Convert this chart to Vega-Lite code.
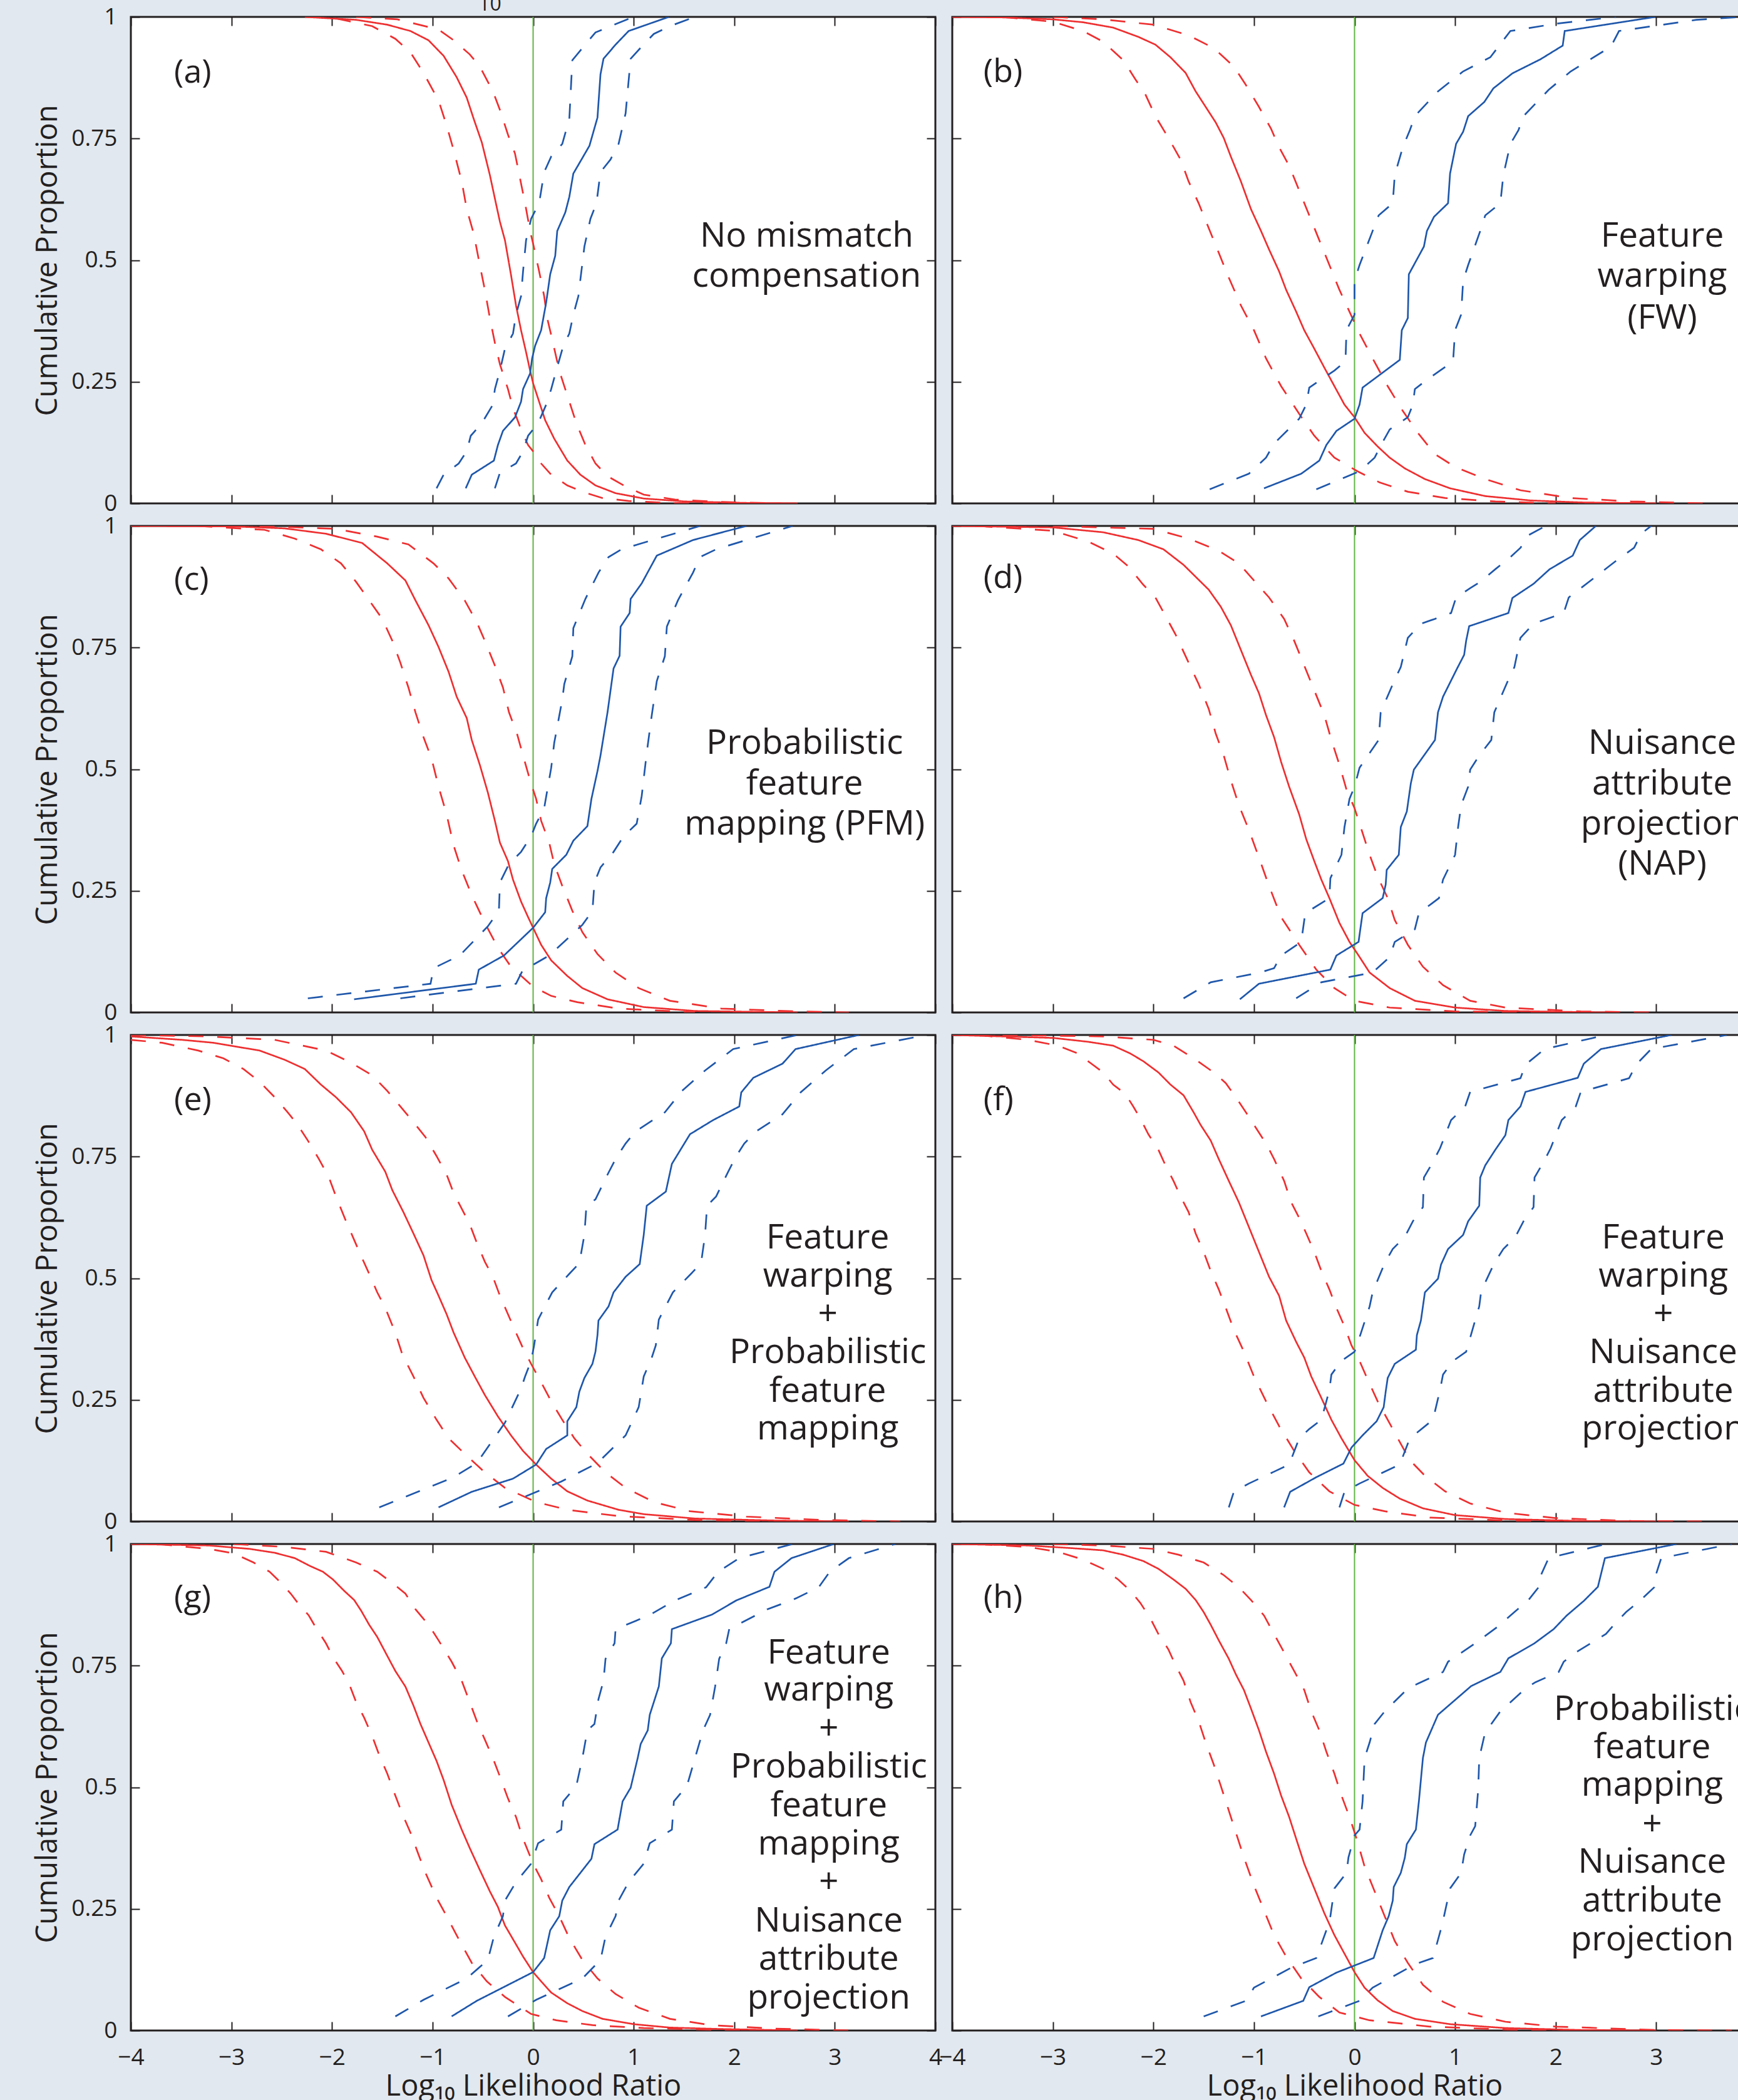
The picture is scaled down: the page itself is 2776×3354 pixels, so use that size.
{
"$schema": "https://vega.github.io/schema/vega-lite/v6.json",
"background": "#e2e8ef",
"padding": {"left": 51, "top": -11, "right": 0, "bottom": 0},
"columns": 2,
"spacing": {"row": 36, "column": 27},
"bounds": "flush",
"concat": [
{"width": 1285, "height": 777, "resolve": {"axis": {"x": "independent", "y": "independent"}}, "layer": [
 {"data": {"name": "v"}, "mark": {"type": "rule", "color": "#62b446", "strokeWidth": 2}, "encoding": {"x": {"field": "x", "type": "quantitative", "scale": {"domain": [-4, 4], "nice": false, "zero": false}, "axis": {"orient": "top", "values": [-4,-3,-2,-1,0,1,2,3,4], "labels": false, "title": null}}}},
 {"data": {"name": "a"}, "mark": {"type": "line", "strokeWidth": 2.7, "clip": true}, "encoding": {
  "x": {"field": "x", "type": "quantitative", "scale": {"domain": [-4, 4], "nice": false, "zero": false}, "axis": {"orient": "bottom", "values": [-4,-3,-2,-1,0,1,2,3,4], "labels": false, "title": null}},
  "y": {"field": "y", "type": "quantitative", "scale": {"domain": [0, 1], "nice": false, "zero": false}, "axis": {"orient": "left", "values": [0,0.25,0.5,0.75,1], "labelExpr": "datum.value + ''", "labelPadding": 36, "title": "Cumulative Proportion", "titlePadding": 13}},
  "color": {"field": "s", "type": "nominal", "scale": {"domain": ["r0","r1","r2","b0","b1","b2"], "range": ["#ee2f30","#ee2f30","#ee2f30","#1f57aa","#1f57aa","#1f57aa"]}, "legend": null},
  "strokeDash": {"field": "s", "type": "nominal", "scale": {"domain": ["r0","r1","r2","b0","b1","b2"], "range": [[1,0],[24,22],[24,22],[1,0],[24,22],[24,22]]}, "legend": null}}},
 {"data": {"name": "notes"}, "transform": [{"filter": "datum.p == 'a'"}], "mark": {"type": "text", "font": "Open Sans", "fontSize": 55, "fill": "#231f20", "align": "center", "baseline": "alphabetic"}, "encoding": {
  "x": {"field": "x", "type": "quantitative", "scale": {"domain": [-4, 4], "nice": false, "zero": false}, "axis": null},
  "y": {"field": "y", "type": "quantitative", "scale": {"domain": [0, 1], "nice": false, "zero": false}, "axis": {"orient": "right", "values": [0,0.25,0.5,0.75,1], "labels": false, "title": null}},
  "text": {"field": "t"}}},
 {"data": {"name": "tags"}, "transform": [{"filter": "datum.p == 'a'"}], "mark": {"type": "text", "font": "Open Sans", "fontSize": 52, "fill": "#231f20", "align": "left", "baseline": "alphabetic"}, "encoding": {
  "x": {"field": "x", "type": "quantitative", "scale": {"domain": [-4, 4], "nice": false, "zero": false}, "axis": null},
  "y": {"field": "y", "type": "quantitative", "scale": {"domain": [0, 1], "nice": false, "zero": false}, "axis": null},
  "text": {"field": "t"}}},
 {"data": {"name": "frag"}, "mark": {"type": "text", "font": "Open Sans", "fontSize": 32, "fill": "#231f20", "align": "center", "baseline": "alphabetic", "clip": false}, "encoding": {
  "x": {"field": "x", "type": "quantitative", "scale": {"domain": [-4, 4], "nice": false, "zero": false}, "axis": null},
  "y": {"field": "y", "type": "quantitative", "scale": {"domain": [0, 1], "nice": false, "zero": false}, "axis": null},
  "text": {"field": "t"}}}
]},
{"width": 1285, "height": 777, "resolve": {"axis": {"x": "independent", "y": "independent"}}, "layer": [
 {"data": {"name": "v"}, "mark": {"type": "rule", "color": "#62b446", "strokeWidth": 2}, "encoding": {"x": {"field": "x", "type": "quantitative", "scale": {"domain": [-4, 4], "nice": false, "zero": false}, "axis": {"orient": "top", "values": [-4,-3,-2,-1,0,1,2,3,4], "labels": false, "title": null}}}},
 {"data": {"name": "b"}, "mark": {"type": "line", "strokeWidth": 2.7, "clip": true}, "encoding": {
  "x": {"field": "x", "type": "quantitative", "scale": {"domain": [-4, 4], "nice": false, "zero": false}, "axis": {"orient": "bottom", "values": [-4,-3,-2,-1,0,1,2,3,4], "labels": false, "title": null}},
  "y": {"field": "y", "type": "quantitative", "scale": {"domain": [0, 1], "nice": false, "zero": false}, "axis": {"orient": "left", "values": [0,0.25,0.5,0.75,1], "labels": false, "title": null}},
  "color": {"field": "s", "type": "nominal", "scale": {"domain": ["r0","r1","r2","b0","b1","b2"], "range": ["#ee2f30","#ee2f30","#ee2f30","#1f57aa","#1f57aa","#1f57aa"]}, "legend": null},
  "strokeDash": {"field": "s", "type": "nominal", "scale": {"domain": ["r0","r1","r2","b0","b1","b2"], "range": [[1,0],[24,22],[24,22],[1,0],[24,22],[24,22]]}, "legend": null}}},
 {"data": {"name": "notes"}, "transform": [{"filter": "datum.p == 'b'"}], "mark": {"type": "text", "font": "Open Sans", "fontSize": 55, "fill": "#231f20", "align": "center", "baseline": "alphabetic"}, "encoding": {
  "x": {"field": "x", "type": "quantitative", "scale": {"domain": [-4, 4], "nice": false, "zero": false}, "axis": null},
  "y": {"field": "y", "type": "quantitative", "scale": {"domain": [0, 1], "nice": false, "zero": false}, "axis": {"orient": "right", "values": [0,0.25,0.5,0.75,1], "labels": false, "title": null}},
  "text": {"field": "t"}}},
 {"data": {"name": "tags"}, "transform": [{"filter": "datum.p == 'b'"}], "mark": {"type": "text", "font": "Open Sans", "fontSize": 52, "fill": "#231f20", "align": "left", "baseline": "alphabetic"}, "encoding": {
  "x": {"field": "x", "type": "quantitative", "scale": {"domain": [-4, 4], "nice": false, "zero": false}, "axis": null},
  "y": {"field": "y", "type": "quantitative", "scale": {"domain": [0, 1], "nice": false, "zero": false}, "axis": null},
  "text": {"field": "t"}}}
]},
{"width": 1285, "height": 777, "resolve": {"axis": {"x": "independent", "y": "independent"}}, "layer": [
 {"data": {"name": "v"}, "mark": {"type": "rule", "color": "#62b446", "strokeWidth": 2}, "encoding": {"x": {"field": "x", "type": "quantitative", "scale": {"domain": [-4, 4], "nice": false, "zero": false}, "axis": {"orient": "top", "values": [-4,-3,-2,-1,0,1,2,3,4], "labels": false, "title": null}}}},
 {"data": {"name": "c"}, "mark": {"type": "line", "strokeWidth": 2.7, "clip": true}, "encoding": {
  "x": {"field": "x", "type": "quantitative", "scale": {"domain": [-4, 4], "nice": false, "zero": false}, "axis": {"orient": "bottom", "values": [-4,-3,-2,-1,0,1,2,3,4], "labels": false, "title": null}},
  "y": {"field": "y", "type": "quantitative", "scale": {"domain": [0, 1], "nice": false, "zero": false}, "axis": {"orient": "left", "values": [0,0.25,0.5,0.75,1], "labelExpr": "datum.value + ''", "labelPadding": 36, "title": "Cumulative Proportion", "titlePadding": 13}},
  "color": {"field": "s", "type": "nominal", "scale": {"domain": ["r0","r1","r2","b0","b1","b2"], "range": ["#ee2f30","#ee2f30","#ee2f30","#1f57aa","#1f57aa","#1f57aa"]}, "legend": null},
  "strokeDash": {"field": "s", "type": "nominal", "scale": {"domain": ["r0","r1","r2","b0","b1","b2"], "range": [[1,0],[24,22],[24,22],[1,0],[24,22],[24,22]]}, "legend": null}}},
 {"data": {"name": "notes"}, "transform": [{"filter": "datum.p == 'c'"}], "mark": {"type": "text", "font": "Open Sans", "fontSize": 55, "fill": "#231f20", "align": "center", "baseline": "alphabetic"}, "encoding": {
  "x": {"field": "x", "type": "quantitative", "scale": {"domain": [-4, 4], "nice": false, "zero": false}, "axis": null},
  "y": {"field": "y", "type": "quantitative", "scale": {"domain": [0, 1], "nice": false, "zero": false}, "axis": {"orient": "right", "values": [0,0.25,0.5,0.75,1], "labels": false, "title": null}},
  "text": {"field": "t"}}},
 {"data": {"name": "tags"}, "transform": [{"filter": "datum.p == 'c'"}], "mark": {"type": "text", "font": "Open Sans", "fontSize": 52, "fill": "#231f20", "align": "left", "baseline": "alphabetic"}, "encoding": {
  "x": {"field": "x", "type": "quantitative", "scale": {"domain": [-4, 4], "nice": false, "zero": false}, "axis": null},
  "y": {"field": "y", "type": "quantitative", "scale": {"domain": [0, 1], "nice": false, "zero": false}, "axis": null},
  "text": {"field": "t"}}}
]},
{"width": 1285, "height": 777, "resolve": {"axis": {"x": "independent", "y": "independent"}}, "layer": [
 {"data": {"name": "v"}, "mark": {"type": "rule", "color": "#62b446", "strokeWidth": 2}, "encoding": {"x": {"field": "x", "type": "quantitative", "scale": {"domain": [-4, 4], "nice": false, "zero": false}, "axis": {"orient": "top", "values": [-4,-3,-2,-1,0,1,2,3,4], "labels": false, "title": null}}}},
 {"data": {"name": "d"}, "mark": {"type": "line", "strokeWidth": 2.7, "clip": true}, "encoding": {
  "x": {"field": "x", "type": "quantitative", "scale": {"domain": [-4, 4], "nice": false, "zero": false}, "axis": {"orient": "bottom", "values": [-4,-3,-2,-1,0,1,2,3,4], "labels": false, "title": null}},
  "y": {"field": "y", "type": "quantitative", "scale": {"domain": [0, 1], "nice": false, "zero": false}, "axis": {"orient": "left", "values": [0,0.25,0.5,0.75,1], "labels": false, "title": null}},
  "color": {"field": "s", "type": "nominal", "scale": {"domain": ["r0","r1","r2","b0","b1","b2"], "range": ["#ee2f30","#ee2f30","#ee2f30","#1f57aa","#1f57aa","#1f57aa"]}, "legend": null},
  "strokeDash": {"field": "s", "type": "nominal", "scale": {"domain": ["r0","r1","r2","b0","b1","b2"], "range": [[1,0],[24,22],[24,22],[1,0],[24,22],[24,22]]}, "legend": null}}},
 {"data": {"name": "notes"}, "transform": [{"filter": "datum.p == 'd'"}], "mark": {"type": "text", "font": "Open Sans", "fontSize": 55, "fill": "#231f20", "align": "center", "baseline": "alphabetic"}, "encoding": {
  "x": {"field": "x", "type": "quantitative", "scale": {"domain": [-4, 4], "nice": false, "zero": false}, "axis": null},
  "y": {"field": "y", "type": "quantitative", "scale": {"domain": [0, 1], "nice": false, "zero": false}, "axis": {"orient": "right", "values": [0,0.25,0.5,0.75,1], "labels": false, "title": null}},
  "text": {"field": "t"}}},
 {"data": {"name": "tags"}, "transform": [{"filter": "datum.p == 'd'"}], "mark": {"type": "text", "font": "Open Sans", "fontSize": 52, "fill": "#231f20", "align": "left", "baseline": "alphabetic"}, "encoding": {
  "x": {"field": "x", "type": "quantitative", "scale": {"domain": [-4, 4], "nice": false, "zero": false}, "axis": null},
  "y": {"field": "y", "type": "quantitative", "scale": {"domain": [0, 1], "nice": false, "zero": false}, "axis": null},
  "text": {"field": "t"}}}
]},
{"width": 1285, "height": 777, "resolve": {"axis": {"x": "independent", "y": "independent"}}, "layer": [
 {"data": {"name": "v"}, "mark": {"type": "rule", "color": "#62b446", "strokeWidth": 2}, "encoding": {"x": {"field": "x", "type": "quantitative", "scale": {"domain": [-4, 4], "nice": false, "zero": false}, "axis": {"orient": "top", "values": [-4,-3,-2,-1,0,1,2,3,4], "labels": false, "title": null}}}},
 {"data": {"name": "e"}, "mark": {"type": "line", "strokeWidth": 2.7, "clip": true}, "encoding": {
  "x": {"field": "x", "type": "quantitative", "scale": {"domain": [-4, 4], "nice": false, "zero": false}, "axis": {"orient": "bottom", "values": [-4,-3,-2,-1,0,1,2,3,4], "labels": false, "title": null}},
  "y": {"field": "y", "type": "quantitative", "scale": {"domain": [0, 1], "nice": false, "zero": false}, "axis": {"orient": "left", "values": [0,0.25,0.5,0.75,1], "labelExpr": "datum.value + ''", "labelPadding": 36, "title": "Cumulative Proportion", "titlePadding": 13}},
  "color": {"field": "s", "type": "nominal", "scale": {"domain": ["r0","r1","r2","b0","b1","b2"], "range": ["#ee2f30","#ee2f30","#ee2f30","#1f57aa","#1f57aa","#1f57aa"]}, "legend": null},
  "strokeDash": {"field": "s", "type": "nominal", "scale": {"domain": ["r0","r1","r2","b0","b1","b2"], "range": [[1,0],[24,22],[24,22],[1,0],[24,22],[24,22]]}, "legend": null}}},
 {"data": {"name": "notes"}, "transform": [{"filter": "datum.p == 'e'"}], "mark": {"type": "text", "font": "Open Sans", "fontSize": 55, "fill": "#231f20", "align": "center", "baseline": "alphabetic"}, "encoding": {
  "x": {"field": "x", "type": "quantitative", "scale": {"domain": [-4, 4], "nice": false, "zero": false}, "axis": null},
  "y": {"field": "y", "type": "quantitative", "scale": {"domain": [0, 1], "nice": false, "zero": false}, "axis": {"orient": "right", "values": [0,0.25,0.5,0.75,1], "labels": false, "title": null}},
  "text": {"field": "t"}}},
 {"data": {"name": "tags"}, "transform": [{"filter": "datum.p == 'e'"}], "mark": {"type": "text", "font": "Open Sans", "fontSize": 52, "fill": "#231f20", "align": "left", "baseline": "alphabetic"}, "encoding": {
  "x": {"field": "x", "type": "quantitative", "scale": {"domain": [-4, 4], "nice": false, "zero": false}, "axis": null},
  "y": {"field": "y", "type": "quantitative", "scale": {"domain": [0, 1], "nice": false, "zero": false}, "axis": null},
  "text": {"field": "t"}}}
]},
{"width": 1285, "height": 777, "resolve": {"axis": {"x": "independent", "y": "independent"}}, "layer": [
 {"data": {"name": "v"}, "mark": {"type": "rule", "color": "#62b446", "strokeWidth": 2}, "encoding": {"x": {"field": "x", "type": "quantitative", "scale": {"domain": [-4, 4], "nice": false, "zero": false}, "axis": {"orient": "top", "values": [-4,-3,-2,-1,0,1,2,3,4], "labels": false, "title": null}}}},
 {"data": {"name": "f"}, "mark": {"type": "line", "strokeWidth": 2.7, "clip": true}, "encoding": {
  "x": {"field": "x", "type": "quantitative", "scale": {"domain": [-4, 4], "nice": false, "zero": false}, "axis": {"orient": "bottom", "values": [-4,-3,-2,-1,0,1,2,3,4], "labels": false, "title": null}},
  "y": {"field": "y", "type": "quantitative", "scale": {"domain": [0, 1], "nice": false, "zero": false}, "axis": {"orient": "left", "values": [0,0.25,0.5,0.75,1], "labels": false, "title": null}},
  "color": {"field": "s", "type": "nominal", "scale": {"domain": ["r0","r1","r2","b0","b1","b2"], "range": ["#ee2f30","#ee2f30","#ee2f30","#1f57aa","#1f57aa","#1f57aa"]}, "legend": null},
  "strokeDash": {"field": "s", "type": "nominal", "scale": {"domain": ["r0","r1","r2","b0","b1","b2"], "range": [[1,0],[24,22],[24,22],[1,0],[24,22],[24,22]]}, "legend": null}}},
 {"data": {"name": "notes"}, "transform": [{"filter": "datum.p == 'f'"}], "mark": {"type": "text", "font": "Open Sans", "fontSize": 55, "fill": "#231f20", "align": "center", "baseline": "alphabetic"}, "encoding": {
  "x": {"field": "x", "type": "quantitative", "scale": {"domain": [-4, 4], "nice": false, "zero": false}, "axis": null},
  "y": {"field": "y", "type": "quantitative", "scale": {"domain": [0, 1], "nice": false, "zero": false}, "axis": {"orient": "right", "values": [0,0.25,0.5,0.75,1], "labels": false, "title": null}},
  "text": {"field": "t"}}},
 {"data": {"name": "tags"}, "transform": [{"filter": "datum.p == 'f'"}], "mark": {"type": "text", "font": "Open Sans", "fontSize": 52, "fill": "#231f20", "align": "left", "baseline": "alphabetic"}, "encoding": {
  "x": {"field": "x", "type": "quantitative", "scale": {"domain": [-4, 4], "nice": false, "zero": false}, "axis": null},
  "y": {"field": "y", "type": "quantitative", "scale": {"domain": [0, 1], "nice": false, "zero": false}, "axis": null},
  "text": {"field": "t"}}}
]},
{"width": 1285, "height": 777, "resolve": {"axis": {"x": "independent", "y": "independent"}}, "layer": [
 {"data": {"name": "v"}, "mark": {"type": "rule", "color": "#62b446", "strokeWidth": 2}, "encoding": {"x": {"field": "x", "type": "quantitative", "scale": {"domain": [-4, 4], "nice": false, "zero": false}, "axis": {"orient": "top", "values": [-4,-3,-2,-1,0,1,2,3,4], "labels": false, "title": null}}}},
 {"data": {"name": "g"}, "mark": {"type": "line", "strokeWidth": 2.7, "clip": true}, "encoding": {
  "x": {"field": "x", "type": "quantitative", "scale": {"domain": [-4, 4], "nice": false, "zero": false}, "axis": {"orient": "bottom", "values": [-4,-3,-2,-1,0,1,2,3,4], "format": "d", "labelPadding": 39, "title": "Log₁₀ Likelihood Ratio", "titlePadding": 5}},
  "y": {"field": "y", "type": "quantitative", "scale": {"domain": [0, 1], "nice": false, "zero": false}, "axis": {"orient": "left", "values": [0,0.25,0.5,0.75,1], "labelExpr": "datum.value + ''", "labelPadding": 36, "title": "Cumulative Proportion", "titlePadding": 13}},
  "color": {"field": "s", "type": "nominal", "scale": {"domain": ["r0","r1","r2","b0","b1","b2"], "range": ["#ee2f30","#ee2f30","#ee2f30","#1f57aa","#1f57aa","#1f57aa"]}, "legend": null},
  "strokeDash": {"field": "s", "type": "nominal", "scale": {"domain": ["r0","r1","r2","b0","b1","b2"], "range": [[1,0],[24,22],[24,22],[1,0],[24,22],[24,22]]}, "legend": null}}},
 {"data": {"name": "notes"}, "transform": [{"filter": "datum.p == 'g'"}], "mark": {"type": "text", "font": "Open Sans", "fontSize": 55, "fill": "#231f20", "align": "center", "baseline": "alphabetic"}, "encoding": {
  "x": {"field": "x", "type": "quantitative", "scale": {"domain": [-4, 4], "nice": false, "zero": false}, "axis": null},
  "y": {"field": "y", "type": "quantitative", "scale": {"domain": [0, 1], "nice": false, "zero": false}, "axis": {"orient": "right", "values": [0,0.25,0.5,0.75,1], "labels": false, "title": null}},
  "text": {"field": "t"}}},
 {"data": {"name": "tags"}, "transform": [{"filter": "datum.p == 'g'"}], "mark": {"type": "text", "font": "Open Sans", "fontSize": 52, "fill": "#231f20", "align": "left", "baseline": "alphabetic"}, "encoding": {
  "x": {"field": "x", "type": "quantitative", "scale": {"domain": [-4, 4], "nice": false, "zero": false}, "axis": null},
  "y": {"field": "y", "type": "quantitative", "scale": {"domain": [0, 1], "nice": false, "zero": false}, "axis": null},
  "text": {"field": "t"}}}
]},
{"width": 1285, "height": 777, "resolve": {"axis": {"x": "independent", "y": "independent"}}, "layer": [
 {"data": {"name": "v"}, "mark": {"type": "rule", "color": "#62b446", "strokeWidth": 2}, "encoding": {"x": {"field": "x", "type": "quantitative", "scale": {"domain": [-4, 4], "nice": false, "zero": false}, "axis": {"orient": "top", "values": [-4,-3,-2,-1,0,1,2,3,4], "labels": false, "title": null}}}},
 {"data": {"name": "h"}, "mark": {"type": "line", "strokeWidth": 2.7, "clip": true}, "encoding": {
  "x": {"field": "x", "type": "quantitative", "scale": {"domain": [-4, 4], "nice": false, "zero": false}, "axis": {"orient": "bottom", "values": [-4,-3,-2,-1,0,1,2,3,4], "format": "d", "labelPadding": 39, "title": "Log₁₀ Likelihood Ratio", "titlePadding": 5}},
  "y": {"field": "y", "type": "quantitative", "scale": {"domain": [0, 1], "nice": false, "zero": false}, "axis": {"orient": "left", "values": [0,0.25,0.5,0.75,1], "labels": false, "title": null}},
  "color": {"field": "s", "type": "nominal", "scale": {"domain": ["r0","r1","r2","b0","b1","b2"], "range": ["#ee2f30","#ee2f30","#ee2f30","#1f57aa","#1f57aa","#1f57aa"]}, "legend": null},
  "strokeDash": {"field": "s", "type": "nominal", "scale": {"domain": ["r0","r1","r2","b0","b1","b2"], "range": [[1,0],[24,22],[24,22],[1,0],[24,22],[24,22]]}, "legend": null}}},
 {"data": {"name": "notes"}, "transform": [{"filter": "datum.p == 'h'"}], "mark": {"type": "text", "font": "Open Sans", "fontSize": 55, "fill": "#231f20", "align": "center", "baseline": "alphabetic"}, "encoding": {
  "x": {"field": "x", "type": "quantitative", "scale": {"domain": [-4, 4], "nice": false, "zero": false}, "axis": null},
  "y": {"field": "y", "type": "quantitative", "scale": {"domain": [0, 1], "nice": false, "zero": false}, "axis": {"orient": "right", "values": [0,0.25,0.5,0.75,1], "labels": false, "title": null}},
  "text": {"field": "t"}}},
 {"data": {"name": "tags"}, "transform": [{"filter": "datum.p == 'h'"}], "mark": {"type": "text", "font": "Open Sans", "fontSize": 52, "fill": "#231f20", "align": "left", "baseline": "alphabetic"}, "encoding": {
  "x": {"field": "x", "type": "quantitative", "scale": {"domain": [-4, 4], "nice": false, "zero": false}, "axis": null},
  "y": {"field": "y", "type": "quantitative", "scale": {"domain": [0, 1], "nice": false, "zero": false}, "axis": null},
  "text": {"field": "t"}}}
]}
],
"config": {
 "view": {"fill": "white", "stroke": "#231f20", "strokeWidth": 3},
 "axis": {"domain": false, "grid": false, "ticks": true, "tickSize": -14, "tickWidth": 2, "tickColor": "#231f20", "labelFont": "Open Sans", "labelFontSize": 37, "labelColor": "#231f20", "labelFlush": false, "labelOverlap": false, "labelBound": false, "titleFont": "Open Sans", "titleFontSize": 47, "titleFontWeight": "normal", "titleColor": "#231f20"}
},
"datasets": {
"v": [{"x": 0}],
"frag": [{"x": -0.43, "y": 1.0135, "t": "10"}],
"tags": [
 {"p":"a","x":-3.57,"y":0.865,"t":"(a)"},{"p":"b","x":-3.69,"y":0.866,"t":"(b)"},{"p":"c","x":-3.57,"y":0.869,"t":"(c)"},{"p":"d","x":-3.69,"y":0.872,"t":"(d)"},
 {"p":"e","x":-3.57,"y":0.845,"t":"(e)"},{"p":"f","x":-3.69,"y":0.845,"t":"(f)"},{"p":"g","x":-3.57,"y":0.869,"t":"(g)"},{"p":"h","x":-3.69,"y":0.869,"t":"(h)"}
],
"notes": [
 {"p":"a","x":2.72,"y":0.528,"t":"No mismatch"},{"p":"a","x":2.72,"y":0.445,"t":"compensation"},
 {"p":"b","x":3.06,"y":0.528,"t":"Feature"},{"p":"b","x":3.06,"y":0.445,"t":"warping"},{"p":"b","x":3.06,"y":0.359,"t":"(FW)"},
 {"p":"c","x":2.7,"y":0.531,"t":"Probabilistic"},{"p":"c","x":2.7,"y":0.448,"t":"feature"},{"p":"c","x":2.7,"y":0.365,"t":"mapping (PFM)"},
 {"p":"d","x":3.06,"y":0.531,"t":"Nuisance"},{"p":"d","x":3.06,"y":0.448,"t":"attribute"},{"p":"d","x":3.06,"y":0.365,"t":"projection"},{"p":"d","x":3.06,"y":0.283,"t":"(NAP)"},
 {"p":"e","x":2.93,"y":0.561,"t":"Feature"},{"p":"e","x":2.93,"y":0.483,"t":"warping"},{"p":"e","x":2.93,"y":0.404,"t":"+"},{"p":"e","x":2.93,"y":0.325,"t":"Probabilistic"},{"p":"e","x":2.93,"y":0.246,"t":"feature"},{"p":"e","x":2.93,"y":0.168,"t":"mapping"},
 {"p":"f","x":3.07,"y":0.561,"t":"Feature"},{"p":"f","x":3.07,"y":0.483,"t":"warping"},{"p":"f","x":3.07,"y":0.404,"t":"+"},{"p":"f","x":3.07,"y":0.325,"t":"Nuisance"},{"p":"f","x":3.07,"y":0.246,"t":"attribute"},{"p":"f","x":3.07,"y":0.168,"t":"projection"},
 {"p":"g","x":2.94,"y":0.754,"t":"Feature"},{"p":"g","x":2.94,"y":0.678,"t":"warping"},{"p":"g","x":2.94,"y":0.598,"t":"+"},{"p":"g","x":2.94,"y":0.52,"t":"Probabilistic"},{"p":"g","x":2.94,"y":0.44,"t":"feature"},{"p":"g","x":2.94,"y":0.362,"t":"mapping"},{"p":"g","x":2.94,"y":0.283,"t":"+"},{"p":"g","x":2.94,"y":0.203,"t":"Nuisance"},{"p":"g","x":2.94,"y":0.125,"t":"attribute"},{"p":"g","x":2.94,"y":0.045,"t":"projection"},
 {"p":"h","x":2.96,"y":0.638,"t":"Probabilistic"},{"p":"h","x":2.96,"y":0.56,"t":"feature"},{"p":"h","x":2.96,"y":0.482,"t":"mapping"},{"p":"h","x":2.96,"y":0.402,"t":"+"},{"p":"h","x":2.96,"y":0.324,"t":"Nuisance"},{"p":"h","x":2.96,"y":0.244,"t":"attribute"},{"p":"h","x":2.96,"y":0.165,"t":"projection"}
],
"a": [
{"s":"r0","x":-2.27,"y":1},{"s":"r0","x":-1.76,"y":0.994},{"s":"r0","x":-1.45,"y":0.984},{"s":"r0","x":-1.22,"y":0.971},{"s":"r0","x":-1.04,"y":0.952},{"s":"r0","x":-0.89,"y":0.92},{"s":"r0","x":-0.76,"y":0.876},{"s":"r0","x":-0.66,"y":0.834},{"s":"r0","x":-0.59,"y":0.79},{"s":"r0","x":-0.51,"y":0.742},{"s":"r0","x":-0.43,"y":0.675},{"s":"r0","x":-0.37,"y":0.617},{"s":"r0","x":-0.33,"y":0.579},{"s":"r0","x":-0.28,"y":0.541},{"s":"r0","x":-0.22,"y":0.47},{"s":"r0","x":-0.17,"y":0.407},{"s":"r0","x":-0.12,"y":0.356},{"s":"r0","x":-0.07,"y":0.311},{"s":"r0","x":-0.03,"y":0.273},{"s":"r0","x":0,"y":0.247},{"s":"r0","x":0.06,"y":0.209},{"s":"r0","x":0.12,"y":0.171},{"s":"r0","x":0.21,"y":0.133},{"s":"r0","x":0.34,"y":0.088},{"s":"r0","x":0.47,"y":0.059},{"s":"r0","x":0.62,"y":0.037},{"s":"r0","x":0.82,"y":0.021},{"s":"r0","x":1.1,"y":0.01},{"s":"r0","x":1.51,"y":0.004},{"s":"r0","x":2.12,"y":0.001},{"s":"r0","x":2.63,"y":0},
{"s":"r1","x":-1.96,"y":0.997},{"s":"r1","x":-1.6,"y":0.981},{"s":"r1","x":-1.37,"y":0.955},{"s":"r1","x":-1.22,"y":0.927},{"s":"r1","x":-1.09,"y":0.885},{"s":"r1","x":-0.94,"y":0.828},{"s":"r1","x":-0.86,"y":0.777},{"s":"r1","x":-0.79,"y":0.726},{"s":"r1","x":-0.71,"y":0.662},{"s":"r1","x":-0.66,"y":0.605},{"s":"r1","x":-0.59,"y":0.554},{"s":"r1","x":-0.53,"y":0.49},{"s":"r1","x":-0.48,"y":0.439},{"s":"r1","x":-0.43,"y":0.381},{"s":"r1","x":-0.38,"y":0.33},{"s":"r1","x":-0.33,"y":0.286},{"s":"r1","x":-0.25,"y":0.235},{"s":"r1","x":-0.2,"y":0.196},{"s":"r1","x":-0.12,"y":0.152},{"s":"r1","x":-0.05,"y":0.12},{"s":"r1","x":0,"y":0.107},{"s":"r1","x":0.08,"y":0.082},{"s":"r1","x":0.18,"y":0.059},{"s":"r1","x":0.34,"y":0.037},{"s":"r1","x":0.49,"y":0.024},{"s":"r1","x":0.69,"y":0.011},{"s":"r1","x":0.95,"y":0.005},{"s":"r1","x":1.36,"y":0.001},{"s":"r1","x":1.87,"y":0},
{"s":"r2","x":-1.76,"y":1},{"s":"r2","x":-1.35,"y":0.995},{"s":"r2","x":-0.94,"y":0.974},{"s":"r2","x":-0.79,"y":0.952},{"s":"r2","x":-0.63,"y":0.923},{"s":"r2","x":-0.53,"y":0.898},{"s":"r2","x":-0.4,"y":0.847},{"s":"r2","x":-0.33,"y":0.809},{"s":"r2","x":-0.25,"y":0.758},{"s":"r2","x":-0.18,"y":0.719},{"s":"r2","x":-0.13,"y":0.668},{"s":"r2","x":-0.08,"y":0.617},{"s":"r2","x":-0.03,"y":0.56},{"s":"r2","x":0,"y":0.534},{"s":"r2","x":0.06,"y":0.477},{"s":"r2","x":0.11,"y":0.426},{"s":"r2","x":0.14,"y":0.381},{"s":"r2","x":0.19,"y":0.337},{"s":"r2","x":0.26,"y":0.273},{"s":"r2","x":0.34,"y":0.222},{"s":"r2","x":0.43,"y":0.165},{"s":"r2","x":0.52,"y":0.12},{"s":"r2","x":0.62,"y":0.082},{"s":"r2","x":0.74,"y":0.056},{"s":"r2","x":0.9,"y":0.037},{"s":"r2","x":1.1,"y":0.018},{"s":"r2","x":1.41,"y":0.008},{"s":"r2","x":1.87,"y":0.003},{"s":"r2","x":2.48,"y":0},
{"s":"b0","x":-0.67,"y":0.031},{"s":"b0","x":-0.61,"y":0.059},{"s":"b0","x":-0.39,"y":0.088},{"s":"b0","x":-0.35,"y":0.12},{"s":"b0","x":-0.3,"y":0.149},{"s":"b0","x":-0.18,"y":0.177},{"s":"b0","x":-0.12,"y":0.209},{"s":"b0","x":-0.1,"y":0.235},{"s":"b0","x":-0.03,"y":0.267},{"s":"b0","x":-0.01,"y":0.298},{"s":"b0","x":0.02,"y":0.324},{"s":"b0","x":0.08,"y":0.356},{"s":"b0","x":0.13,"y":0.413},{"s":"b0","x":0.17,"y":0.471},{"s":"b0","x":0.22,"y":0.509},{"s":"b0","x":0.24,"y":0.56},{"s":"b0","x":0.32,"y":0.598},{"s":"b0","x":0.36,"y":0.63},{"s":"b0","x":0.4,"y":0.678},{"s":"b0","x":0.56,"y":0.735},{"s":"b0","x":0.64,"y":0.793},{"s":"b0","x":0.67,"y":0.882},{"s":"b0","x":0.7,"y":0.914},{"s":"b0","x":0.82,"y":0.943},{"s":"b0","x":0.95,"y":0.971},{"s":"b0","x":1.35,"y":1},
{"s":"b1","x":-0.96,"y":0.031},{"s":"b1","x":-0.89,"y":0.059},{"s":"b1","x":-0.74,"y":0.082},{"s":"b1","x":-0.66,"y":0.107},{"s":"b1","x":-0.62,"y":0.139},{"s":"b1","x":-0.51,"y":0.165},{"s":"b1","x":-0.4,"y":0.203},{"s":"b1","x":-0.38,"y":0.235},{"s":"b1","x":-0.33,"y":0.273},{"s":"b1","x":-0.28,"y":0.318},{"s":"b1","x":-0.2,"y":0.349},{"s":"b1","x":-0.17,"y":0.388},{"s":"b1","x":-0.12,"y":0.426},{"s":"b1","x":-0.1,"y":0.477},{"s":"b1","x":-0.07,"y":0.541},{"s":"b1","x":-0.02,"y":0.585},{"s":"b1","x":0.06,"y":0.617},{"s":"b1","x":0.11,"y":0.681},{"s":"b1","x":0.18,"y":0.713},{"s":"b1","x":0.29,"y":0.739},{"s":"b1","x":0.36,"y":0.79},{"s":"b1","x":0.39,"y":0.911},{"s":"b1","x":0.49,"y":0.936},{"s":"b1","x":0.62,"y":0.968},{"s":"b1","x":0.77,"y":0.981},{"s":"b1","x":1,"y":1},
{"s":"b2","x":-0.38,"y":0.031},{"s":"b2","x":-0.33,"y":0.063},{"s":"b2","x":-0.17,"y":0.082},{"s":"b2","x":-0.1,"y":0.107},{"s":"b2","x":-0.05,"y":0.139},{"s":"b2","x":0.05,"y":0.165},{"s":"b2","x":0.13,"y":0.203},{"s":"b2","x":0.18,"y":0.235},{"s":"b2","x":0.23,"y":0.273},{"s":"b2","x":0.3,"y":0.324},{"s":"b2","x":0.36,"y":0.349},{"s":"b2","x":0.4,"y":0.388},{"s":"b2","x":0.45,"y":0.426},{"s":"b2","x":0.48,"y":0.477},{"s":"b2","x":0.51,"y":0.528},{"s":"b2","x":0.57,"y":0.585},{"s":"b2","x":0.63,"y":0.617},{"s":"b2","x":0.67,"y":0.681},{"s":"b2","x":0.77,"y":0.707},{"s":"b2","x":0.85,"y":0.739},{"s":"b2","x":0.92,"y":0.802},{"s":"b2","x":0.97,"y":0.914},{"s":"b2","x":1.08,"y":0.939},{"s":"b2","x":1.2,"y":0.965},{"s":"b2","x":1.36,"y":0.981},{"s":"b2","x":1.61,"y":1}
],
"b": [
{"s":"r0","x":-4,"y":1},{"s":"r0","x":-3.5,"y":0.999},{"s":"r0","x":-3,"y":0.995},{"s":"r0","x":-2.7,"y":0.989},{"s":"r0","x":-2.4,"y":0.978},{"s":"r0","x":-2.15,"y":0.959},{"s":"r0","x":-1.98,"y":0.943},{"s":"r0","x":-1.83,"y":0.917},{"s":"r0","x":-1.68,"y":0.885},{"s":"r0","x":-1.58,"y":0.847},{"s":"r0","x":-1.48,"y":0.815},{"s":"r0","x":-1.38,"y":0.783},{"s":"r0","x":-1.3,"y":0.751},{"s":"r0","x":-1.23,"y":0.713},{"s":"r0","x":-1.13,"y":0.662},{"s":"r0","x":-1.03,"y":0.605},{"s":"r0","x":-0.93,"y":0.56},{"s":"r0","x":-0.85,"y":0.522},{"s":"r0","x":-0.75,"y":0.477},{"s":"r0","x":-0.68,"y":0.439},{"s":"r0","x":-0.58,"y":0.394},{"s":"r0","x":-0.5,"y":0.356},{"s":"r0","x":-0.4,"y":0.318},{"s":"r0","x":-0.3,"y":0.279},{"s":"r0","x":-0.2,"y":0.241},{"s":"r0","x":-0.1,"y":0.203},{"s":"r0","x":0,"y":0.177},{"s":"r0","x":0.1,"y":0.145},{"s":"r0","x":0.23,"y":0.117},{"s":"r0","x":0.35,"y":0.094},{"s":"r0","x":0.5,"y":0.072},{"s":"r0","x":0.7,"y":0.05},{"s":"r0","x":0.95,"y":0.031},{"s":"r0","x":1.3,"y":0.015},{"s":"r0","x":1.75,"y":0.006},{"s":"r0","x":2.25,"y":0.002},{"s":"r0","x":3,"y":0},
{"s":"r1","x":-3.5,"y":1},{"s":"r1","x":-3,"y":0.99},{"s":"r1","x":-2.7,"y":0.971},{"s":"r1","x":-2.5,"y":0.949},{"s":"r1","x":-2.3,"y":0.911},{"s":"r1","x":-2.18,"y":0.872},{"s":"r1","x":-2.08,"y":0.841},{"s":"r1","x":-1.98,"y":0.796},{"s":"r1","x":-1.85,"y":0.751},{"s":"r1","x":-1.73,"y":0.707},{"s":"r1","x":-1.65,"y":0.662},{"s":"r1","x":-1.55,"y":0.617},{"s":"r1","x":-1.45,"y":0.566},{"s":"r1","x":-1.35,"y":0.515},{"s":"r1","x":-1.25,"y":0.464},{"s":"r1","x":-1.13,"y":0.407},{"s":"r1","x":-1,"y":0.356},{"s":"r1","x":-0.88,"y":0.298},{"s":"r1","x":-0.73,"y":0.241},{"s":"r1","x":-0.55,"y":0.184},{"s":"r1","x":-0.4,"y":0.139},{"s":"r1","x":-0.2,"y":0.094},{"s":"r1","x":0.03,"y":0.066},{"s":"r1","x":0.25,"y":0.043},{"s":"r1","x":0.53,"y":0.024},{"s":"r1","x":0.9,"y":0.011},{"s":"r1","x":1.4,"y":0.004},{"s":"r1","x":2,"y":0},
{"s":"r2","x":-3,"y":1},{"s":"r2","x":-2.5,"y":0.995},{"s":"r2","x":-2,"y":0.984},{"s":"r2","x":-1.65,"y":0.962},{"s":"r2","x":-1.4,"y":0.936},{"s":"r2","x":-1.2,"y":0.898},{"s":"r2","x":-1.08,"y":0.86},{"s":"r2","x":-0.95,"y":0.815},{"s":"r2","x":-0.83,"y":0.77},{"s":"r2","x":-0.75,"y":0.732},{"s":"r2","x":-0.65,"y":0.694},{"s":"r2","x":-0.55,"y":0.643},{"s":"r2","x":-0.45,"y":0.592},{"s":"r2","x":-0.35,"y":0.541},{"s":"r2","x":-0.25,"y":0.49},{"s":"r2","x":-0.15,"y":0.439},{"s":"r2","x":-0.05,"y":0.394},{"s":"r2","x":0.05,"y":0.349},{"s":"r2","x":0.18,"y":0.298},{"s":"r2","x":0.33,"y":0.241},{"s":"r2","x":0.48,"y":0.19},{"s":"r2","x":0.63,"y":0.145},{"s":"r2","x":0.8,"y":0.101},{"s":"r2","x":1,"y":0.075},{"s":"r2","x":1.3,"y":0.05},{"s":"r2","x":1.65,"y":0.027},{"s":"r2","x":2.15,"y":0.011},{"s":"r2","x":2.75,"y":0.004},{"s":"r2","x":3.5,"y":0},
{"s":"b0","x":-0.9,"y":0.031},{"s":"b0","x":-0.53,"y":0.061},{"s":"b0","x":-0.35,"y":0.088},{"s":"b0","x":-0.28,"y":0.12},{"s":"b0","x":-0.18,"y":0.149},{"s":"b0","x":0,"y":0.174},{"s":"b0","x":0.05,"y":0.203},{"s":"b0","x":0.08,"y":0.238},{"s":"b0","x":0.45,"y":0.295},{"s":"b0","x":0.47,"y":0.356},{"s":"b0","x":0.53,"y":0.381},{"s":"b0","x":0.54,"y":0.471},{"s":"b0","x":0.69,"y":0.528},{"s":"b0","x":0.72,"y":0.56},{"s":"b0","x":0.79,"y":0.589},{"s":"b0","x":0.93,"y":0.617},{"s":"b0","x":0.95,"y":0.678},{"s":"b0","x":1.01,"y":0.739},{"s":"b0","x":1.08,"y":0.764},{"s":"b0","x":1.13,"y":0.796},{"s":"b0","x":1.29,"y":0.825},{"s":"b0","x":1.38,"y":0.853},{"s":"b0","x":1.57,"y":0.884},{"s":"b0","x":1.85,"y":0.913},{"s":"b0","x":2.07,"y":0.941},{"s":"b0","x":2.09,"y":0.971},{"s":"b0","x":2.99,"y":1},
{"s":"b1","x":-1.44,"y":0.029},{"s":"b1","x":-1.05,"y":0.061},{"s":"b1","x":-0.88,"y":0.094},{"s":"b1","x":-0.8,"y":0.123},{"s":"b1","x":-0.55,"y":0.174},{"s":"b1","x":-0.48,"y":0.203},{"s":"b1","x":-0.45,"y":0.238},{"s":"b1","x":-0.2,"y":0.273},{"s":"b1","x":-0.09,"y":0.292},{"s":"b1","x":-0.08,"y":0.356},{"s":"b1","x":0,"y":0.388},{"s":"b1","x":0,"y":0.458},{"s":"b1","x":0.05,"y":0.49},{"s":"b1","x":0.18,"y":0.56},{"s":"b1","x":0.24,"y":0.592},{"s":"b1","x":0.38,"y":0.617},{"s":"b1","x":0.4,"y":0.675},{"s":"b1","x":0.48,"y":0.732},{"s":"b1","x":0.55,"y":0.767},{"s":"b1","x":0.6,"y":0.796},{"s":"b1","x":0.83,"y":0.847},{"s":"b1","x":1.08,"y":0.888},{"s":"b1","x":1.35,"y":0.917},{"s":"b1","x":1.55,"y":0.971},{"s":"b1","x":2,"y":0.986},{"s":"b1","x":2.6,"y":1},
{"s":"b2","x":-0.38,"y":0.029},{"s":"b2","x":0.05,"y":0.066},{"s":"b2","x":0.2,"y":0.094},{"s":"b2","x":0.28,"y":0.126},{"s":"b2","x":0.35,"y":0.152},{"s":"b2","x":0.53,"y":0.177},{"s":"b2","x":0.58,"y":0.203},{"s":"b2","x":0.6,"y":0.235},{"s":"b2","x":0.7,"y":0.251},{"s":"b2","x":0.85,"y":0.273},{"s":"b2","x":0.98,"y":0.292},{"s":"b2","x":1,"y":0.356},{"s":"b2","x":1.06,"y":0.388},{"s":"b2","x":1.08,"y":0.458},{"s":"b2","x":1.13,"y":0.49},{"s":"b2","x":1.25,"y":0.56},{"s":"b2","x":1.3,"y":0.592},{"s":"b2","x":1.45,"y":0.617},{"s":"b2","x":1.48,"y":0.675},{"s":"b2","x":1.55,"y":0.739},{"s":"b2","x":1.63,"y":0.767},{"s":"b2","x":1.68,"y":0.796},{"s":"b2","x":1.93,"y":0.85},{"s":"b2","x":2.15,"y":0.888},{"s":"b2","x":2.55,"y":0.939},{"s":"b2","x":2.63,"y":0.971},{"s":"b2","x":3.4,"y":0.994},{"s":"b2","x":3.84,"y":1}
],
"c": [
{"s":"r0","x":-4,"y":1},{"s":"r0","x":-2.98,"y":0.999},{"s":"r0","x":-2.47,"y":0.995},{"s":"r0","x":-2.06,"y":0.984},{"s":"r0","x":-1.7,"y":0.965},{"s":"r0","x":-1.45,"y":0.923},{"s":"r0","x":-1.27,"y":0.888},{"s":"r0","x":-1.17,"y":0.847},{"s":"r0","x":-1.04,"y":0.796},{"s":"r0","x":-0.94,"y":0.751},{"s":"r0","x":-0.84,"y":0.7},{"s":"r0","x":-0.76,"y":0.649},{"s":"r0","x":-0.66,"y":0.605},{"s":"r0","x":-0.61,"y":0.56},{"s":"r0","x":-0.53,"y":0.509},{"s":"r0","x":-0.45,"y":0.452},{"s":"r0","x":-0.38,"y":0.394},{"s":"r0","x":-0.33,"y":0.349},{"s":"r0","x":-0.25,"y":0.311},{"s":"r0","x":-0.2,"y":0.273},{"s":"r0","x":-0.12,"y":0.228},{"s":"r0","x":-0.05,"y":0.196},{"s":"r0","x":0,"y":0.174},{"s":"r0","x":0.08,"y":0.139},{"s":"r0","x":0.18,"y":0.107},{"s":"r0","x":0.34,"y":0.075},{"s":"r0","x":0.49,"y":0.05},{"s":"r0","x":0.74,"y":0.027},{"s":"r0","x":1.1,"y":0.011},{"s":"r0","x":1.61,"y":0.003},{"s":"r0","x":2.63,"y":0},
{"s":"r1","x":-3.34,"y":1},{"s":"r1","x":-2.67,"y":0.992},{"s":"r1","x":-2.37,"y":0.974},{"s":"r1","x":-2.11,"y":0.952},{"s":"r1","x":-1.91,"y":0.923},{"s":"r1","x":-1.76,"y":0.885},{"s":"r1","x":-1.63,"y":0.847},{"s":"r1","x":-1.5,"y":0.809},{"s":"r1","x":-1.4,"y":0.764},{"s":"r1","x":-1.32,"y":0.719},{"s":"r1","x":-1.24,"y":0.668},{"s":"r1","x":-1.17,"y":0.617},{"s":"r1","x":-1.09,"y":0.566},{"s":"r1","x":-1.01,"y":0.522},{"s":"r1","x":-0.94,"y":0.464},{"s":"r1","x":-0.86,"y":0.407},{"s":"r1","x":-0.79,"y":0.343},{"s":"r1","x":-0.71,"y":0.292},{"s":"r1","x":-0.61,"y":0.241},{"s":"r1","x":-0.48,"y":0.184},{"s":"r1","x":-0.35,"y":0.133},{"s":"r1","x":-0.22,"y":0.094},{"s":"r1","x":0,"y":0.053},{"s":"r1","x":0.18,"y":0.034},{"s":"r1","x":0.44,"y":0.021},{"s":"r1","x":0.85,"y":0.008},{"s":"r1","x":1.61,"y":0},
{"s":"r2","x":-2.72,"y":1},{"s":"r2","x":-1.96,"y":0.994},{"s":"r2","x":-1.55,"y":0.978},{"s":"r2","x":-1.24,"y":0.962},{"s":"r2","x":-0.99,"y":0.923},{"s":"r2","x":-0.84,"y":0.892},{"s":"r2","x":-0.68,"y":0.847},{"s":"r2","x":-0.56,"y":0.802},{"s":"r2","x":-0.48,"y":0.764},{"s":"r2","x":-0.38,"y":0.713},{"s":"r2","x":-0.3,"y":0.668},{"s":"r2","x":-0.24,"y":0.617},{"s":"r2","x":-0.16,"y":0.573},{"s":"r2","x":-0.1,"y":0.528},{"s":"r2","x":-0.03,"y":0.477},{"s":"r2","x":0.03,"y":0.439},{"s":"r2","x":0.08,"y":0.394},{"s":"r2","x":0.16,"y":0.349},{"s":"r2","x":0.21,"y":0.305},{"s":"r2","x":0.29,"y":0.26},{"s":"r2","x":0.39,"y":0.209},{"s":"r2","x":0.49,"y":0.165},{"s":"r2","x":0.64,"y":0.12},{"s":"r2","x":0.82,"y":0.082},{"s":"r2","x":1.05,"y":0.05},{"s":"r2","x":1.36,"y":0.024},{"s":"r2","x":1.87,"y":0.008},{"s":"r2","x":2.63,"y":0.002},{"s":"r2","x":3.14,"y":0},
{"s":"b0","x":-1.78,"y":0.027},{"s":"b0","x":-0.57,"y":0.059},{"s":"b0","x":-0.54,"y":0.088},{"s":"b0","x":-0.29,"y":0.117},{"s":"b0","x":0,"y":0.174},{"s":"b0","x":0.12,"y":0.206},{"s":"b0","x":0.13,"y":0.235},{"s":"b0","x":0.17,"y":0.267},{"s":"b0","x":0.19,"y":0.295},{"s":"b0","x":0.33,"y":0.324},{"s":"b0","x":0.4,"y":0.353},{"s":"b0","x":0.54,"y":0.383},{"s":"b0","x":0.58,"y":0.439},{"s":"b0","x":0.64,"y":0.496},{"s":"b0","x":0.67,"y":0.528},{"s":"b0","x":0.74,"y":0.617},{"s":"b0","x":0.8,"y":0.707},{"s":"b0","x":0.86,"y":0.733},{"s":"b0","x":0.87,"y":0.793},{"s":"b0","x":0.96,"y":0.821},{"s":"b0","x":0.97,"y":0.85},{"s":"b0","x":1.08,"y":0.882},{"s":"b0","x":1.23,"y":0.939},{"s":"b0","x":1.59,"y":0.971},{"s":"b0","x":2.12,"y":1},
{"s":"b1","x":-2.24,"y":0.029},{"s":"b1","x":-1.02,"y":0.059},{"s":"b1","x":-0.99,"y":0.091},{"s":"b1","x":-0.73,"y":0.117},{"s":"b1","x":-0.45,"y":0.177},{"s":"b1","x":-0.34,"y":0.209},{"s":"b1","x":-0.33,"y":0.267},{"s":"b1","x":-0.24,"y":0.305},{"s":"b1","x":-0.12,"y":0.33},{"s":"b1","x":-0.02,"y":0.362},{"s":"b1","x":0.03,"y":0.388},{"s":"b1","x":0.11,"y":0.42},{"s":"b1","x":0.18,"y":0.503},{"s":"b1","x":0.21,"y":0.554},{"s":"b1","x":0.29,"y":0.643},{"s":"b1","x":0.31,"y":0.675},{"s":"b1","x":0.39,"y":0.732},{"s":"b1","x":0.4,"y":0.79},{"s":"b1","x":0.52,"y":0.85},{"s":"b1","x":0.65,"y":0.904},{"s":"b1","x":0.75,"y":0.936},{"s":"b1","x":0.88,"y":0.952},{"s":"b1","x":1.66,"y":1},
{"s":"b2","x":-1.32,"y":0.029},{"s":"b2","x":-0.17,"y":0.059},{"s":"b2","x":-0.1,"y":0.088},{"s":"b2","x":0,"y":0.098},{"s":"b2","x":0.16,"y":0.117},{"s":"b2","x":0.49,"y":0.18},{"s":"b2","x":0.59,"y":0.209},{"s":"b2","x":0.61,"y":0.267},{"s":"b2","x":0.67,"y":0.298},{"s":"b2","x":0.8,"y":0.33},{"s":"b2","x":0.9,"y":0.362},{"s":"b2","x":1.03,"y":0.388},{"s":"b2","x":1.08,"y":0.445},{"s":"b2","x":1.13,"y":0.534},{"s":"b2","x":1.18,"y":0.611},{"s":"b2","x":1.23,"y":0.681},{"s":"b2","x":1.31,"y":0.732},{"s":"b2","x":1.33,"y":0.793},{"s":"b2","x":1.44,"y":0.847},{"s":"b2","x":1.59,"y":0.904},{"s":"b2","x":1.66,"y":0.936},{"s":"b2","x":1.82,"y":0.952},{"s":"b2","x":2.58,"y":1}
],
"d": [
{"s":"r0","x":-4,"y":1},{"s":"r0","x":-3,"y":0.997},{"s":"r0","x":-2.5,"y":0.987},{"s":"r0","x":-2.15,"y":0.971},{"s":"r0","x":-1.9,"y":0.952},{"s":"r0","x":-1.7,"y":0.92},{"s":"r0","x":-1.45,"y":0.869},{"s":"r0","x":-1.33,"y":0.834},{"s":"r0","x":-1.23,"y":0.796},{"s":"r0","x":-1.13,"y":0.745},{"s":"r0","x":-1.03,"y":0.694},{"s":"r0","x":-0.95,"y":0.656},{"s":"r0","x":-0.88,"y":0.611},{"s":"r0","x":-0.8,"y":0.566},{"s":"r0","x":-0.73,"y":0.515},{"s":"r0","x":-0.65,"y":0.464},{"s":"r0","x":-0.55,"y":0.407},{"s":"r0","x":-0.48,"y":0.356},{"s":"r0","x":-0.4,"y":0.311},{"s":"r0","x":-0.33,"y":0.273},{"s":"r0","x":-0.25,"y":0.235},{"s":"r0","x":-0.15,"y":0.184},{"s":"r0","x":-0.05,"y":0.145},{"s":"r0","x":0.05,"y":0.114},{"s":"r0","x":0.15,"y":0.082},{"s":"r0","x":0.35,"y":0.05},{"s":"r0","x":0.6,"y":0.024},{"s":"r0","x":1,"y":0.01},{"s":"r0","x":1.5,"y":0.003},{"s":"r0","x":2.5,"y":0},
{"s":"r1","x":-3.75,"y":1},{"s":"r1","x":-3,"y":0.99},{"s":"r1","x":-2.65,"y":0.968},{"s":"r1","x":-2.4,"y":0.943},{"s":"r1","x":-2.25,"y":0.917},{"s":"r1","x":-2.1,"y":0.879},{"s":"r1","x":-1.98,"y":0.853},{"s":"r1","x":-1.88,"y":0.815},{"s":"r1","x":-1.78,"y":0.777},{"s":"r1","x":-1.65,"y":0.719},{"s":"r1","x":-1.55,"y":0.675},{"s":"r1","x":-1.45,"y":0.624},{"s":"r1","x":-1.38,"y":0.573},{"s":"r1","x":-1.3,"y":0.528},{"s":"r1","x":-1.23,"y":0.477},{"s":"r1","x":-1.15,"y":0.426},{"s":"r1","x":-1.05,"y":0.375},{"s":"r1","x":-0.95,"y":0.318},{"s":"r1","x":-0.85,"y":0.26},{"s":"r1","x":-0.73,"y":0.196},{"s":"r1","x":-0.55,"y":0.139},{"s":"r1","x":-0.38,"y":0.088},{"s":"r1","x":-0.2,"y":0.05},{"s":"r1","x":0,"y":0.024},{"s":"r1","x":0.35,"y":0.01},{"s":"r1","x":1,"y":0.002},{"s":"r1","x":2,"y":0},
{"s":"r2","x":-3,"y":1},{"s":"r2","x":-2,"y":0.994},{"s":"r2","x":-1.65,"y":0.974},{"s":"r2","x":-1.35,"y":0.949},{"s":"r2","x":-1.15,"y":0.923},{"s":"r2","x":-1,"y":0.888},{"s":"r2","x":-0.85,"y":0.853},{"s":"r2","x":-0.7,"y":0.809},{"s":"r2","x":-0.6,"y":0.764},{"s":"r2","x":-0.5,"y":0.713},{"s":"r2","x":-0.4,"y":0.662},{"s":"r2","x":-0.3,"y":0.611},{"s":"r2","x":-0.23,"y":0.56},{"s":"r2","x":-0.15,"y":0.509},{"s":"r2","x":-0.08,"y":0.458},{"s":"r2","x":0,"y":0.42},{"s":"r2","x":0.08,"y":0.369},{"s":"r2","x":0.15,"y":0.324},{"s":"r2","x":0.23,"y":0.279},{"s":"r2","x":0.33,"y":0.235},{"s":"r2","x":0.4,"y":0.19},{"s":"r2","x":0.53,"y":0.139},{"s":"r2","x":0.68,"y":0.094},{"s":"r2","x":0.88,"y":0.056},{"s":"r2","x":1.15,"y":0.024},{"s":"r2","x":1.5,"y":0.01},{"s":"r2","x":2.25,"y":0.002},{"s":"r2","x":3,"y":0},
{"s":"b0","x":-1.14,"y":0.027},{"s":"b0","x":-0.95,"y":0.059},{"s":"b0","x":-0.24,"y":0.088},{"s":"b0","x":-0.18,"y":0.117},{"s":"b0","x":0.04,"y":0.145},{"s":"b0","x":0.08,"y":0.204},{"s":"b0","x":0.28,"y":0.235},{"s":"b0","x":0.31,"y":0.263},{"s":"b0","x":0.32,"y":0.293},{"s":"b0","x":0.44,"y":0.324},{"s":"b0","x":0.46,"y":0.381},{"s":"b0","x":0.52,"y":0.413},{"s":"b0","x":0.56,"y":0.471},{"s":"b0","x":0.59,"y":0.499},{"s":"b0","x":0.69,"y":0.528},{"s":"b0","x":0.8,"y":0.56},{"s":"b0","x":0.83,"y":0.617},{"s":"b0","x":0.88,"y":0.649},{"s":"b0","x":1.02,"y":0.707},{"s":"b0","x":1.09,"y":0.735},{"s":"b0","x":1.11,"y":0.764},{"s":"b0","x":1.14,"y":0.794},{"s":"b0","x":1.53,"y":0.821},{"s":"b0","x":1.57,"y":0.852},{"s":"b0","x":1.78,"y":0.881},{"s":"b0","x":1.94,"y":0.911},{"s":"b0","x":2.17,"y":0.939},{"s":"b0","x":2.24,"y":0.971},{"s":"b0","x":2.4,"y":1},
{"s":"b1","x":-1.7,"y":0.029},{"s":"b1","x":-1.43,"y":0.062},{"s":"b1","x":-0.94,"y":0.082},{"s":"b1","x":-0.8,"y":0.091},{"s":"b1","x":-0.73,"y":0.117},{"s":"b1","x":-0.53,"y":0.145},{"s":"b1","x":-0.49,"y":0.204},{"s":"b1","x":-0.25,"y":0.235},{"s":"b1","x":-0.24,"y":0.276},{"s":"b1","x":-0.13,"y":0.324},{"s":"b1","x":-0.1,"y":0.381},{"s":"b1","x":-0.05,"y":0.439},{"s":"b1","x":0,"y":0.464},{"s":"b1","x":0.05,"y":0.503},{"s":"b1","x":0.24,"y":0.56},{"s":"b1","x":0.26,"y":0.617},{"s":"b1","x":0.4,"y":0.684},{"s":"b1","x":0.46,"y":0.71},{"s":"b1","x":0.53,"y":0.77},{"s":"b1","x":0.66,"y":0.799},{"s":"b1","x":0.8,"y":0.809},{"s":"b1","x":0.96,"y":0.821},{"s":"b1","x":1.01,"y":0.853},{"s":"b1","x":1.15,"y":0.872},{"s":"b1","x":1.25,"y":0.885},{"s":"b1","x":1.4,"y":0.911},{"s":"b1","x":1.55,"y":0.936},{"s":"b1","x":1.65,"y":0.955},{"s":"b1","x":1.73,"y":0.981},{"s":"b1","x":1.9,"y":1},
{"s":"b2","x":-0.58,"y":0.029},{"s":"b2","x":-0.33,"y":0.062},{"s":"b2","x":0.18,"y":0.082},{"s":"b2","x":0.35,"y":0.114},{"s":"b2","x":0.4,"y":0.145},{"s":"b2","x":0.6,"y":0.171},{"s":"b2","x":0.64,"y":0.204},{"s":"b2","x":0.84,"y":0.235},{"s":"b2","x":0.88,"y":0.273},{"s":"b2","x":1,"y":0.324},{"s":"b2","x":1.03,"y":0.381},{"s":"b2","x":1.06,"y":0.426},{"s":"b2","x":1.13,"y":0.464},{"s":"b2","x":1.15,"y":0.499},{"s":"b2","x":1.24,"y":0.528},{"s":"b2","x":1.36,"y":0.56},{"s":"b2","x":1.39,"y":0.617},{"s":"b2","x":1.53,"y":0.684},{"s":"b2","x":1.59,"y":0.71},{"s":"b2","x":1.65,"y":0.77},{"s":"b2","x":1.78,"y":0.799},{"s":"b2","x":2.08,"y":0.821},{"s":"b2","x":2.13,"y":0.853},{"s":"b2","x":2.35,"y":0.888},{"s":"b2","x":2.53,"y":0.917},{"s":"b2","x":2.65,"y":0.936},{"s":"b2","x":2.78,"y":0.955},{"s":"b2","x":2.85,"y":0.984},{"s":"b2","x":2.95,"y":1}
],
"e": [
{"s":"r0","x":-4,"y":0.997},{"s":"r0","x":-3.49,"y":0.99},{"s":"r0","x":-3.18,"y":0.984},{"s":"r0","x":-2.72,"y":0.968},{"s":"r0","x":-2.47,"y":0.949},{"s":"r0","x":-2.27,"y":0.93},{"s":"r0","x":-2.11,"y":0.898},{"s":"r0","x":-1.96,"y":0.872},{"s":"r0","x":-1.81,"y":0.841},{"s":"r0","x":-1.68,"y":0.802},{"s":"r0","x":-1.6,"y":0.764},{"s":"r0","x":-1.47,"y":0.719},{"s":"r0","x":-1.4,"y":0.681},{"s":"r0","x":-1.29,"y":0.636},{"s":"r0","x":-1.19,"y":0.592},{"s":"r0","x":-1.09,"y":0.547},{"s":"r0","x":-1.01,"y":0.496},{"s":"r0","x":-0.94,"y":0.464},{"s":"r0","x":-0.86,"y":0.426},{"s":"r0","x":-0.79,"y":0.388},{"s":"r0","x":-0.68,"y":0.337},{"s":"r0","x":-0.58,"y":0.298},{"s":"r0","x":-0.48,"y":0.26},{"s":"r0","x":-0.35,"y":0.216},{"s":"r0","x":-0.22,"y":0.177},{"s":"r0","x":-0.1,"y":0.145},{"s":"r0","x":0.03,"y":0.117},{"s":"r0","x":0.18,"y":0.088},{"s":"r0","x":0.34,"y":0.062},{"s":"r0","x":0.54,"y":0.043},{"s":"r0","x":0.85,"y":0.024},{"s":"r0","x":1.1,"y":0.015},{"s":"r0","x":1.61,"y":0.006},{"s":"r0","x":2.38,"y":0.002},{"s":"r0","x":3.14,"y":0},
{"s":"r1","x":-4,"y":0.99},{"s":"r1","x":-3.69,"y":0.984},{"s":"r1","x":-3.33,"y":0.968},{"s":"r1","x":-3.08,"y":0.952},{"s":"r1","x":-2.88,"y":0.93},{"s":"r1","x":-2.72,"y":0.904},{"s":"r1","x":-2.57,"y":0.872},{"s":"r1","x":-2.44,"y":0.841},{"s":"r1","x":-2.34,"y":0.815},{"s":"r1","x":-2.24,"y":0.783},{"s":"r1","x":-2.13,"y":0.745},{"s":"r1","x":-2.03,"y":0.707},{"s":"r1","x":-1.96,"y":0.668},{"s":"r1","x":-1.86,"y":0.617},{"s":"r1","x":-1.78,"y":0.579},{"s":"r1","x":-1.7,"y":0.541},{"s":"r1","x":-1.63,"y":0.509},{"s":"r1","x":-1.55,"y":0.471},{"s":"r1","x":-1.47,"y":0.439},{"s":"r1","x":-1.37,"y":0.388},{"s":"r1","x":-1.3,"y":0.343},{"s":"r1","x":-1.19,"y":0.298},{"s":"r1","x":-1.09,"y":0.254},{"s":"r1","x":-0.96,"y":0.209},{"s":"r1","x":-0.84,"y":0.171},{"s":"r1","x":-0.68,"y":0.139},{"s":"r1","x":-0.48,"y":0.101},{"s":"r1","x":-0.28,"y":0.069},{"s":"r1","x":0.03,"y":0.04},{"s":"r1","x":0.34,"y":0.024},{"s":"r1","x":0.85,"y":0.011},{"s":"r1","x":1.61,"y":0.003},{"s":"r1","x":2.63,"y":0},
{"s":"r2","x":-4,"y":1},{"s":"r2","x":-3.23,"y":0.997},{"s":"r2","x":-2.57,"y":0.99},{"s":"r2","x":-2.06,"y":0.968},{"s":"r2","x":-1.81,"y":0.943},{"s":"r2","x":-1.6,"y":0.917},{"s":"r2","x":-1.45,"y":0.885},{"s":"r2","x":-1.32,"y":0.853},{"s":"r2","x":-1.19,"y":0.821},{"s":"r2","x":-1.07,"y":0.79},{"s":"r2","x":-0.96,"y":0.751},{"s":"r2","x":-0.86,"y":0.713},{"s":"r2","x":-0.79,"y":0.675},{"s":"r2","x":-0.71,"y":0.643},{"s":"r2","x":-0.63,"y":0.611},{"s":"r2","x":-0.56,"y":0.573},{"s":"r2","x":-0.48,"y":0.534},{"s":"r2","x":-0.4,"y":0.503},{"s":"r2","x":-0.33,"y":0.464},{"s":"r2","x":-0.25,"y":0.426},{"s":"r2","x":-0.17,"y":0.388},{"s":"r2","x":-0.1,"y":0.356},{"s":"r2","x":-0.02,"y":0.324},{"s":"r2","x":0.08,"y":0.286},{"s":"r2","x":0.18,"y":0.247},{"s":"r2","x":0.29,"y":0.209},{"s":"r2","x":0.41,"y":0.171},{"s":"r2","x":0.54,"y":0.139},{"s":"r2","x":0.72,"y":0.101},{"s":"r2","x":0.92,"y":0.069},{"s":"r2","x":1.2,"y":0.04},{"s":"r2","x":1.56,"y":0.021},{"s":"r2","x":2.12,"y":0.01},{"s":"r2","x":2.89,"y":0.003},{"s":"r2","x":3.65,"y":0},
{"s":"b0","x":-0.94,"y":0.029},{"s":"b0","x":-0.61,"y":0.061},{"s":"b0","x":-0.2,"y":0.088},{"s":"b0","x":0.03,"y":0.117},{"s":"b0","x":0.13,"y":0.149},{"s":"b0","x":0.34,"y":0.177},{"s":"b0","x":0.34,"y":0.206},{"s":"b0","x":0.43,"y":0.235},{"s":"b0","x":0.46,"y":0.267},{"s":"b0","x":0.51,"y":0.295},{"s":"b0","x":0.59,"y":0.324},{"s":"b0","x":0.62,"y":0.349},{"s":"b0","x":0.64,"y":0.383},{"s":"b0","x":0.65,"y":0.413},{"s":"b0","x":0.75,"y":0.442},{"s":"b0","x":0.8,"y":0.471},{"s":"b0","x":0.92,"y":0.503},{"s":"b0","x":1.06,"y":0.529},{"s":"b0","x":1.1,"y":0.589},{"s":"b0","x":1.13,"y":0.649},{"s":"b0","x":1.32,"y":0.678},{"s":"b0","x":1.38,"y":0.735},{"s":"b0","x":1.56,"y":0.796},{"s":"b0","x":1.79,"y":0.825},{"s":"b0","x":2.05,"y":0.853},{"s":"b0","x":2.07,"y":0.882},{"s":"b0","x":2.19,"y":0.912},{"s":"b0","x":2.48,"y":0.941},{"s":"b0","x":2.61,"y":0.971},{"s":"b0","x":3.24,"y":1},
{"s":"b1","x":-1.53,"y":0.029},{"s":"b1","x":-0.79,"y":0.091},{"s":"b1","x":-0.56,"y":0.12},{"s":"b1","x":-0.28,"y":0.203},{"s":"b1","x":-0.12,"y":0.273},{"s":"b1","x":-0.08,"y":0.298},{"s":"b1","x":-0.02,"y":0.33},{"s":"b1","x":0.01,"y":0.362},{"s":"b1","x":0.05,"y":0.415},{"s":"b1","x":0.19,"y":0.471},{"s":"b1","x":0.36,"y":0.509},{"s":"b1","x":0.46,"y":0.531},{"s":"b1","x":0.51,"y":0.589},{"s":"b1","x":0.53,"y":0.649},{"s":"b1","x":0.62,"y":0.662},{"s":"b1","x":0.74,"y":0.713},{"s":"b1","x":0.82,"y":0.745},{"s":"b1","x":0.92,"y":0.777},{"s":"b1","x":1.02,"y":0.802},{"s":"b1","x":1.31,"y":0.841},{"s":"b1","x":1.48,"y":0.885},{"s":"b1","x":1.71,"y":0.927},{"s":"b1","x":1.99,"y":0.971},{"s":"b1","x":2.63,"y":1},
{"s":"b2","x":-0.34,"y":0.029},{"s":"b2","x":0.28,"y":0.082},{"s":"b2","x":0.64,"y":0.12},{"s":"b2","x":0.92,"y":0.177},{"s":"b2","x":1.05,"y":0.235},{"s":"b2","x":1.1,"y":0.298},{"s":"b2","x":1.18,"y":0.337},{"s":"b2","x":1.22,"y":0.362},{"s":"b2","x":1.25,"y":0.415},{"s":"b2","x":1.39,"y":0.471},{"s":"b2","x":1.57,"y":0.509},{"s":"b2","x":1.67,"y":0.531},{"s":"b2","x":1.71,"y":0.589},{"s":"b2","x":1.73,"y":0.649},{"s":"b2","x":1.82,"y":0.668},{"s":"b2","x":1.94,"y":0.719},{"s":"b2","x":2.02,"y":0.751},{"s":"b2","x":2.1,"y":0.777},{"s":"b2","x":2.22,"y":0.802},{"s":"b2","x":2.48,"y":0.837},{"s":"b2","x":2.66,"y":0.882},{"s":"b2","x":2.91,"y":0.927},{"s":"b2","x":3.19,"y":0.971},{"s":"b2","x":3.91,"y":1}
],
"f": [
{"s":"r0","x":-4,"y":1},{"s":"r0","x":-3,"y":0.994},{"s":"r0","x":-2.65,"y":0.986},{"s":"r0","x":-2.4,"y":0.978},{"s":"r0","x":-2.23,"y":0.962},{"s":"r0","x":-2.1,"y":0.946},{"s":"r0","x":-1.95,"y":0.923},{"s":"r0","x":-1.83,"y":0.898},{"s":"r0","x":-1.7,"y":0.876},{"s":"r0","x":-1.6,"y":0.841},{"s":"r0","x":-1.53,"y":0.815},{"s":"r0","x":-1.43,"y":0.783},{"s":"r0","x":-1.35,"y":0.745},{"s":"r0","x":-1.25,"y":0.7},{"s":"r0","x":-1.15,"y":0.656},{"s":"r0","x":-1.05,"y":0.605},{"s":"r0","x":-0.95,"y":0.554},{"s":"r0","x":-0.85,"y":0.503},{"s":"r0","x":-0.75,"y":0.464},{"s":"r0","x":-0.68,"y":0.413},{"s":"r0","x":-0.58,"y":0.369},{"s":"r0","x":-0.5,"y":0.337},{"s":"r0","x":-0.43,"y":0.298},{"s":"r0","x":-0.33,"y":0.254},{"s":"r0","x":-0.23,"y":0.209},{"s":"r0","x":-0.13,"y":0.171},{"s":"r0","x":0,"y":0.126},{"s":"r0","x":0.13,"y":0.094},{"s":"r0","x":0.28,"y":0.069},{"s":"r0","x":0.45,"y":0.047},{"s":"r0","x":0.68,"y":0.027},{"s":"r0","x":1,"y":0.013},{"s":"r0","x":1.5,"y":0.005},{"s":"r0","x":2.25,"y":0.001},{"s":"r0","x":3,"y":0},
{"s":"r1","x":-3.75,"y":1},{"s":"r1","x":-3.25,"y":0.99},{"s":"r1","x":-2.95,"y":0.978},{"s":"r1","x":-2.75,"y":0.962},{"s":"r1","x":-2.63,"y":0.943},{"s":"r1","x":-2.5,"y":0.923},{"s":"r1","x":-2.4,"y":0.898},{"s":"r1","x":-2.28,"y":0.879},{"s":"r1","x":-2.2,"y":0.853},{"s":"r1","x":-2.13,"y":0.828},{"s":"r1","x":-2.05,"y":0.796},{"s":"r1","x":-1.95,"y":0.764},{"s":"r1","x":-1.88,"y":0.732},{"s":"r1","x":-1.8,"y":0.7},{"s":"r1","x":-1.73,"y":0.668},{"s":"r1","x":-1.65,"y":0.636},{"s":"r1","x":-1.58,"y":0.592},{"s":"r1","x":-1.5,"y":0.554},{"s":"r1","x":-1.43,"y":0.515},{"s":"r1","x":-1.35,"y":0.477},{"s":"r1","x":-1.28,"y":0.439},{"s":"r1","x":-1.2,"y":0.394},{"s":"r1","x":-1.1,"y":0.349},{"s":"r1","x":-1,"y":0.298},{"s":"r1","x":-0.88,"y":0.247},{"s":"r1","x":-0.75,"y":0.196},{"s":"r1","x":-0.6,"y":0.145},{"s":"r1","x":-0.45,"y":0.101},{"s":"r1","x":-0.25,"y":0.062},{"s":"r1","x":0,"y":0.034},{"s":"r1","x":0.3,"y":0.021},{"s":"r1","x":0.75,"y":0.008},{"s":"r1","x":1.5,"y":0.002},{"s":"r1","x":2.5,"y":0},
{"s":"r2","x":-3.5,"y":1},{"s":"r2","x":-2.5,"y":0.997},{"s":"r2","x":-2,"y":0.99},{"s":"r2","x":-1.8,"y":0.978},{"s":"r2","x":-1.6,"y":0.952},{"s":"r2","x":-1.4,"y":0.923},{"s":"r2","x":-1.28,"y":0.901},{"s":"r2","x":-1.18,"y":0.872},{"s":"r2","x":-1.08,"y":0.841},{"s":"r2","x":-0.98,"y":0.809},{"s":"r2","x":-0.88,"y":0.777},{"s":"r2","x":-0.8,"y":0.745},{"s":"r2","x":-0.7,"y":0.7},{"s":"r2","x":-0.63,"y":0.656},{"s":"r2","x":-0.55,"y":0.624},{"s":"r2","x":-0.48,"y":0.592},{"s":"r2","x":-0.4,"y":0.554},{"s":"r2","x":-0.33,"y":0.515},{"s":"r2","x":-0.25,"y":0.477},{"s":"r2","x":-0.18,"y":0.439},{"s":"r2","x":-0.1,"y":0.401},{"s":"r2","x":-0.03,"y":0.362},{"s":"r2","x":0.05,"y":0.33},{"s":"r2","x":0.13,"y":0.292},{"s":"r2","x":0.23,"y":0.247},{"s":"r2","x":0.33,"y":0.209},{"s":"r2","x":0.43,"y":0.171},{"s":"r2","x":0.55,"y":0.126},{"s":"r2","x":0.7,"y":0.094},{"s":"r2","x":0.9,"y":0.062},{"s":"r2","x":1.15,"y":0.037},{"s":"r2","x":1.5,"y":0.018},{"s":"r2","x":2,"y":0.007},{"s":"r2","x":2.75,"y":0.001},{"s":"r2","x":3.5,"y":0},
{"s":"b0","x":-0.7,"y":0.029},{"s":"b0","x":-0.64,"y":0.061},{"s":"b0","x":-0.38,"y":0.091},{"s":"b0","x":-0.11,"y":0.119},{"s":"b0","x":-0.03,"y":0.152},{"s":"b0","x":0.08,"y":0.177},{"s":"b0","x":0.22,"y":0.206},{"s":"b0","x":0.29,"y":0.235},{"s":"b0","x":0.31,"y":0.267},{"s":"b0","x":0.33,"y":0.295},{"s":"b0","x":0.4,"y":0.324},{"s":"b0","x":0.61,"y":0.353},{"s":"b0","x":0.62,"y":0.383},{"s":"b0","x":0.66,"y":0.413},{"s":"b0","x":0.7,"y":0.471},{"s":"b0","x":0.83,"y":0.499},{"s":"b0","x":0.86,"y":0.528},{"s":"b0","x":0.93,"y":0.56},{"s":"b0","x":1.08,"y":0.589},{"s":"b0","x":1.13,"y":0.617},{"s":"b0","x":1.24,"y":0.649},{"s":"b0","x":1.25,"y":0.707},{"s":"b0","x":1.3,"y":0.732},{"s":"b0","x":1.4,"y":0.764},{"s":"b0","x":1.5,"y":0.794},{"s":"b0","x":1.53,"y":0.825},{"s":"b0","x":1.65,"y":0.853},{"s":"b0","x":1.7,"y":0.883},{"s":"b0","x":2.22,"y":0.912},{"s":"b0","x":2.28,"y":0.941},{"s":"b0","x":2.45,"y":0.971},{"s":"b0","x":3.15,"y":1},
{"s":"b1","x":-1.25,"y":0.029},{"s":"b1","x":-1.2,"y":0.061},{"s":"b1","x":-1.05,"y":0.078},{"s":"b1","x":-0.65,"y":0.117},{"s":"b1","x":-0.55,"y":0.171},{"s":"b1","x":-0.45,"y":0.19},{"s":"b1","x":-0.33,"y":0.209},{"s":"b1","x":-0.25,"y":0.27},{"s":"b1","x":-0.23,"y":0.302},{"s":"b1","x":-0.13,"y":0.33},{"s":"b1","x":0,"y":0.349},{"s":"b1","x":0.06,"y":0.385},{"s":"b1","x":0.15,"y":0.442},{"s":"b1","x":0.18,"y":0.471},{"s":"b1","x":0.3,"y":0.531},{"s":"b1","x":0.38,"y":0.56},{"s":"b1","x":0.5,"y":0.585},{"s":"b1","x":0.58,"y":0.617},{"s":"b1","x":0.68,"y":0.646},{"s":"b1","x":0.69,"y":0.707},{"s":"b1","x":0.78,"y":0.739},{"s":"b1","x":0.85,"y":0.767},{"s":"b1","x":0.96,"y":0.825},{"s":"b1","x":1.1,"y":0.853},{"s":"b1","x":1.15,"y":0.883},{"s":"b1","x":1.65,"y":0.911},{"s":"b1","x":1.7,"y":0.939},{"s":"b1","x":1.89,"y":0.971},{"s":"b1","x":2.5,"y":1},
{"s":"b2","x":-0.15,"y":0.029},{"s":"b2","x":-0.1,"y":0.061},{"s":"b2","x":0.05,"y":0.078},{"s":"b2","x":0.45,"y":0.117},{"s":"b2","x":0.55,"y":0.171},{"s":"b2","x":0.63,"y":0.184},{"s":"b2","x":0.78,"y":0.209},{"s":"b2","x":0.85,"y":0.27},{"s":"b2","x":0.88,"y":0.302},{"s":"b2","x":0.98,"y":0.33},{"s":"b2","x":1.11,"y":0.349},{"s":"b2","x":1.16,"y":0.385},{"s":"b2","x":1.24,"y":0.442},{"s":"b2","x":1.26,"y":0.474},{"s":"b2","x":1.39,"y":0.531},{"s":"b2","x":1.48,"y":0.56},{"s":"b2","x":1.6,"y":0.585},{"s":"b2","x":1.68,"y":0.617},{"s":"b2","x":1.78,"y":0.646},{"s":"b2","x":1.79,"y":0.707},{"s":"b2","x":1.88,"y":0.739},{"s":"b2","x":1.95,"y":0.767},{"s":"b2","x":2.06,"y":0.825},{"s":"b2","x":2.2,"y":0.853},{"s":"b2","x":2.25,"y":0.883},{"s":"b2","x":2.73,"y":0.911},{"s":"b2","x":2.8,"y":0.939},{"s":"b2","x":2.95,"y":0.971},{"s":"b2","x":3.7,"y":1}
],
"g": [
{"s":"r0","x":-4,"y":1},{"s":"r0","x":-3.23,"y":0.997},{"s":"r0","x":-2.82,"y":0.99},{"s":"r0","x":-2.57,"y":0.982},{"s":"r0","x":-2.37,"y":0.971},{"s":"r0","x":-2.22,"y":0.955},{"s":"r0","x":-2.09,"y":0.943},{"s":"r0","x":-1.99,"y":0.927},{"s":"r0","x":-1.88,"y":0.904},{"s":"r0","x":-1.78,"y":0.885},{"s":"r0","x":-1.71,"y":0.863},{"s":"r0","x":-1.63,"y":0.834},{"s":"r0","x":-1.55,"y":0.809},{"s":"r0","x":-1.45,"y":0.77},{"s":"r0","x":-1.37,"y":0.739},{"s":"r0","x":-1.27,"y":0.707},{"s":"r0","x":-1.19,"y":0.668},{"s":"r0","x":-1.12,"y":0.63},{"s":"r0","x":-1.04,"y":0.592},{"s":"r0","x":-0.96,"y":0.554},{"s":"r0","x":-0.89,"y":0.515},{"s":"r0","x":-0.81,"y":0.464},{"s":"r0","x":-0.71,"y":0.413},{"s":"r0","x":-0.63,"y":0.375},{"s":"r0","x":-0.53,"y":0.33},{"s":"r0","x":-0.43,"y":0.286},{"s":"r0","x":-0.35,"y":0.254},{"s":"r0","x":-0.28,"y":0.216},{"s":"r0","x":-0.17,"y":0.177},{"s":"r0","x":-0.1,"y":0.152},{"s":"r0","x":0,"y":0.12},{"s":"r0","x":0.08,"y":0.101},{"s":"r0","x":0.18,"y":0.078},{"s":"r0","x":0.34,"y":0.056},{"s":"r0","x":0.49,"y":0.04},{"s":"r0","x":0.69,"y":0.024},{"s":"r0","x":1,"y":0.013},{"s":"r0","x":1.36,"y":0.006},{"s":"r0","x":1.87,"y":0.003},{"s":"r0","x":2.63,"y":0},
{"s":"r1","x":-3.74,"y":1},{"s":"r1","x":-3.23,"y":0.99},{"s":"r1","x":-2.98,"y":0.981},{"s":"r1","x":-2.78,"y":0.962},{"s":"r1","x":-2.62,"y":0.943},{"s":"r1","x":-2.52,"y":0.923},{"s":"r1","x":-2.41,"y":0.898},{"s":"r1","x":-2.34,"y":0.879},{"s":"r1","x":-2.23,"y":0.853},{"s":"r1","x":-2.16,"y":0.828},{"s":"r1","x":-2.06,"y":0.796},{"s":"r1","x":-1.98,"y":0.764},{"s":"r1","x":-1.9,"y":0.739},{"s":"r1","x":-1.83,"y":0.713},{"s":"r1","x":-1.76,"y":0.675},{"s":"r1","x":-1.68,"y":0.643},{"s":"r1","x":-1.6,"y":0.605},{"s":"r1","x":-1.53,"y":0.566},{"s":"r1","x":-1.45,"y":0.528},{"s":"r1","x":-1.37,"y":0.483},{"s":"r1","x":-1.3,"y":0.445},{"s":"r1","x":-1.22,"y":0.407},{"s":"r1","x":-1.14,"y":0.362},{"s":"r1","x":-1.07,"y":0.324},{"s":"r1","x":-0.96,"y":0.273},{"s":"r1","x":-0.86,"y":0.235},{"s":"r1","x":-0.73,"y":0.184},{"s":"r1","x":-0.61,"y":0.139},{"s":"r1","x":-0.46,"y":0.101},{"s":"r1","x":-0.28,"y":0.069},{"s":"r1","x":-0.02,"y":0.034},{"s":"r1","x":0.23,"y":0.021},{"s":"r1","x":0.59,"y":0.011},{"s":"r1","x":1.1,"y":0.005},{"s":"r1","x":2.12,"y":0},
{"s":"r2","x":-2.98,"y":1},{"s":"r2","x":-2.47,"y":0.994},{"s":"r2","x":-2.06,"y":0.984},{"s":"r2","x":-1.76,"y":0.962},{"s":"r2","x":-1.55,"y":0.943},{"s":"r2","x":-1.4,"y":0.92},{"s":"r2","x":-1.27,"y":0.898},{"s":"r2","x":-1.17,"y":0.866},{"s":"r2","x":-1.04,"y":0.834},{"s":"r2","x":-0.94,"y":0.802},{"s":"r2","x":-0.81,"y":0.758},{"s":"r2","x":-0.71,"y":0.719},{"s":"r2","x":-0.63,"y":0.675},{"s":"r2","x":-0.56,"y":0.636},{"s":"r2","x":-0.48,"y":0.598},{"s":"r2","x":-0.4,"y":0.56},{"s":"r2","x":-0.33,"y":0.522},{"s":"r2","x":-0.25,"y":0.477},{"s":"r2","x":-0.17,"y":0.439},{"s":"r2","x":-0.1,"y":0.394},{"s":"r2","x":0,"y":0.343},{"s":"r2","x":0.08,"y":0.311},{"s":"r2","x":0.16,"y":0.273},{"s":"r2","x":0.26,"y":0.235},{"s":"r2","x":0.36,"y":0.19},{"s":"r2","x":0.49,"y":0.145},{"s":"r2","x":0.64,"y":0.107},{"s":"r2","x":0.82,"y":0.075},{"s":"r2","x":1.05,"y":0.047},{"s":"r2","x":1.36,"y":0.024},{"s":"r2","x":1.77,"y":0.011},{"s":"r2","x":2.38,"y":0.004},{"s":"r2","x":3.14,"y":0},
{"s":"b0","x":-0.81,"y":0.029},{"s":"b0","x":-0.56,"y":0.061},{"s":"b0","x":0,"y":0.12},{"s":"b0","x":0.11,"y":0.149},{"s":"b0","x":0.17,"y":0.206},{"s":"b0","x":0.26,"y":0.235},{"s":"b0","x":0.29,"y":0.267},{"s":"b0","x":0.36,"y":0.295},{"s":"b0","x":0.58,"y":0.353},{"s":"b0","x":0.61,"y":0.383},{"s":"b0","x":0.84,"y":0.413},{"s":"b0","x":0.89,"y":0.471},{"s":"b0","x":0.97,"y":0.499},{"s":"b0","x":1.04,"y":0.56},{"s":"b0","x":1.07,"y":0.589},{"s":"b0","x":1.14,"y":0.617},{"s":"b0","x":1.16,"y":0.649},{"s":"b0","x":1.25,"y":0.707},{"s":"b0","x":1.28,"y":0.765},{"s":"b0","x":1.37,"y":0.796},{"s":"b0","x":1.38,"y":0.825},{"s":"b0","x":1.78,"y":0.855},{"s":"b0","x":2.02,"y":0.884},{"s":"b0","x":2.35,"y":0.912},{"s":"b0","x":2.4,"y":0.943},{"s":"b0","x":2.57,"y":0.971},{"s":"b0","x":2.99,"y":1},
{"s":"b1","x":-1.37,"y":0.029},{"s":"b1","x":-1.09,"y":0.063},{"s":"b1","x":-0.66,"y":0.107},{"s":"b1","x":-0.45,"y":0.145},{"s":"b1","x":-0.39,"y":0.193},{"s":"b1","x":-0.3,"y":0.235},{"s":"b1","x":-0.28,"y":0.267},{"s":"b1","x":-0.17,"y":0.305},{"s":"b1","x":-0.02,"y":0.343},{"s":"b1","x":0.05,"y":0.385},{"s":"b1","x":0.28,"y":0.413},{"s":"b1","x":0.3,"y":0.471},{"s":"b1","x":0.43,"y":0.503},{"s":"b1","x":0.49,"y":0.56},{"s":"b1","x":0.54,"y":0.617},{"s":"b1","x":0.61,"y":0.63},{"s":"b1","x":0.65,"y":0.681},{"s":"b1","x":0.7,"y":0.719},{"s":"b1","x":0.72,"y":0.764},{"s":"b1","x":0.81,"y":0.796},{"s":"b1","x":0.82,"y":0.825},{"s":"b1","x":1.15,"y":0.853},{"s":"b1","x":1.41,"y":0.884},{"s":"b1","x":1.72,"y":0.911},{"s":"b1","x":1.84,"y":0.943},{"s":"b1","x":2.05,"y":0.971},{"s":"b1","x":2.58,"y":1},
{"s":"b2","x":-0.25,"y":0.029},{"s":"b2","x":0.03,"y":0.063},{"s":"b2","x":0.49,"y":0.107},{"s":"b2","x":0.67,"y":0.145},{"s":"b2","x":0.72,"y":0.193},{"s":"b2","x":0.82,"y":0.235},{"s":"b2","x":0.85,"y":0.267},{"s":"b2","x":0.95,"y":0.305},{"s":"b2","x":1.1,"y":0.343},{"s":"b2","x":1.16,"y":0.385},{"s":"b2","x":1.38,"y":0.413},{"s":"b2","x":1.4,"y":0.471},{"s":"b2","x":1.53,"y":0.503},{"s":"b2","x":1.61,"y":0.56},{"s":"b2","x":1.69,"y":0.617},{"s":"b2","x":1.76,"y":0.649},{"s":"b2","x":1.81,"y":0.707},{"s":"b2","x":1.85,"y":0.764},{"s":"b2","x":1.92,"y":0.796},{"s":"b2","x":1.95,"y":0.825},{"s":"b2","x":2.33,"y":0.866},{"s":"b2","x":2.58,"y":0.885},{"s":"b2","x":2.84,"y":0.911},{"s":"b2","x":2.95,"y":0.943},{"s":"b2","x":3.14,"y":0.971},{"s":"b2","x":3.6,"y":1}
],
"h": [
{"s":"r0","x":-4,"y":1},{"s":"r0","x":-3.25,"y":0.997},{"s":"r0","x":-2.85,"y":0.992},{"s":"r0","x":-2.5,"y":0.987},{"s":"r0","x":-2.3,"y":0.978},{"s":"r0","x":-2.1,"y":0.965},{"s":"r0","x":-1.95,"y":0.949},{"s":"r0","x":-1.8,"y":0.927},{"s":"r0","x":-1.68,"y":0.908},{"s":"r0","x":-1.58,"y":0.885},{"s":"r0","x":-1.5,"y":0.86},{"s":"r0","x":-1.43,"y":0.834},{"s":"r0","x":-1.35,"y":0.802},{"s":"r0","x":-1.25,"y":0.764},{"s":"r0","x":-1.18,"y":0.732},{"s":"r0","x":-1.1,"y":0.7},{"s":"r0","x":-1.03,"y":0.662},{"s":"r0","x":-0.95,"y":0.617},{"s":"r0","x":-0.88,"y":0.573},{"s":"r0","x":-0.8,"y":0.528},{"s":"r0","x":-0.73,"y":0.483},{"s":"r0","x":-0.65,"y":0.439},{"s":"r0","x":-0.58,"y":0.394},{"s":"r0","x":-0.5,"y":0.343},{"s":"r0","x":-0.4,"y":0.292},{"s":"r0","x":-0.3,"y":0.241},{"s":"r0","x":-0.2,"y":0.196},{"s":"r0","x":-0.1,"y":0.158},{"s":"r0","x":0,"y":0.12},{"s":"r0","x":0.1,"y":0.088},{"s":"r0","x":0.23,"y":0.062},{"s":"r0","x":0.38,"y":0.04},{"s":"r0","x":0.6,"y":0.024},{"s":"r0","x":0.95,"y":0.013},{"s":"r0","x":1.5,"y":0.005},{"s":"r0","x":2.25,"y":0.001},{"s":"r0","x":3,"y":0},
{"s":"r1","x":-3.75,"y":1},{"s":"r1","x":-3.25,"y":0.994},{"s":"r1","x":-2.95,"y":0.984},{"s":"r1","x":-2.7,"y":0.968},{"s":"r1","x":-2.5,"y":0.949},{"s":"r1","x":-2.35,"y":0.927},{"s":"r1","x":-2.23,"y":0.904},{"s":"r1","x":-2.13,"y":0.879},{"s":"r1","x":-2.03,"y":0.847},{"s":"r1","x":-1.95,"y":0.815},{"s":"r1","x":-1.85,"y":0.783},{"s":"r1","x":-1.78,"y":0.751},{"s":"r1","x":-1.7,"y":0.719},{"s":"r1","x":-1.63,"y":0.675},{"s":"r1","x":-1.55,"y":0.636},{"s":"r1","x":-1.48,"y":0.592},{"s":"r1","x":-1.4,"y":0.547},{"s":"r1","x":-1.33,"y":0.503},{"s":"r1","x":-1.25,"y":0.452},{"s":"r1","x":-1.18,"y":0.407},{"s":"r1","x":-1.1,"y":0.356},{"s":"r1","x":-1,"y":0.298},{"s":"r1","x":-0.9,"y":0.247},{"s":"r1","x":-0.8,"y":0.196},{"s":"r1","x":-0.68,"y":0.152},{"s":"r1","x":-0.53,"y":0.107},{"s":"r1","x":-0.35,"y":0.069},{"s":"r1","x":-0.15,"y":0.037},{"s":"r1","x":0.15,"y":0.021},{"s":"r1","x":0.75,"y":0.008},{"s":"r1","x":1.5,"y":0.002},{"s":"r1","x":2.5,"y":0},
{"s":"r2","x":-3,"y":1},{"s":"r2","x":-2.5,"y":0.997},{"s":"r2","x":-2,"y":0.99},{"s":"r2","x":-1.75,"y":0.978},{"s":"r2","x":-1.5,"y":0.962},{"s":"r2","x":-1.3,"y":0.936},{"s":"r2","x":-1.15,"y":0.911},{"s":"r2","x":-1.03,"y":0.885},{"s":"r2","x":-0.9,"y":0.853},{"s":"r2","x":-0.8,"y":0.815},{"s":"r2","x":-0.7,"y":0.777},{"s":"r2","x":-0.6,"y":0.739},{"s":"r2","x":-0.5,"y":0.7},{"s":"r2","x":-0.43,"y":0.656},{"s":"r2","x":-0.35,"y":0.617},{"s":"r2","x":-0.28,"y":0.573},{"s":"r2","x":-0.2,"y":0.528},{"s":"r2","x":-0.13,"y":0.483},{"s":"r2","x":-0.05,"y":0.439},{"s":"r2","x":0.03,"y":0.388},{"s":"r2","x":0.1,"y":0.337},{"s":"r2","x":0.2,"y":0.286},{"s":"r2","x":0.3,"y":0.235},{"s":"r2","x":0.4,"y":0.184},{"s":"r2","x":0.53,"y":0.139},{"s":"r2","x":0.68,"y":0.094},{"s":"r2","x":0.88,"y":0.059},{"s":"r2","x":1.15,"y":0.034},{"s":"r2","x":1.5,"y":0.018},{"s":"r2","x":2,"y":0.008},{"s":"r2","x":3,"y":0.001},{"s":"r2","x":3.75,"y":0},
{"s":"b0","x":-0.93,"y":0.029},{"s":"b0","x":-0.51,"y":0.061},{"s":"b0","x":-0.45,"y":0.089},{"s":"b0","x":-0.18,"y":0.119},{"s":"b0","x":0.19,"y":0.149},{"s":"b0","x":0.28,"y":0.206},{"s":"b0","x":0.34,"y":0.235},{"s":"b0","x":0.38,"y":0.267},{"s":"b0","x":0.39,"y":0.295},{"s":"b0","x":0.46,"y":0.324},{"s":"b0","x":0.5,"y":0.355},{"s":"b0","x":0.52,"y":0.383},{"s":"b0","x":0.61,"y":0.413},{"s":"b0","x":0.64,"y":0.471},{"s":"b0","x":0.68,"y":0.56},{"s":"b0","x":0.71,"y":0.592},{"s":"b0","x":0.83,"y":0.649},{"s":"b0","x":1.16,"y":0.708},{"s":"b0","x":1.45,"y":0.737},{"s":"b0","x":1.53,"y":0.765},{"s":"b0","x":1.79,"y":0.796},{"s":"b0","x":1.98,"y":0.825},{"s":"b0","x":2.11,"y":0.853},{"s":"b0","x":2.28,"y":0.883},{"s":"b0","x":2.42,"y":0.912},{"s":"b0","x":2.49,"y":0.971},{"s":"b0","x":3.2,"y":1},
{"s":"b1","x":-1.5,"y":0.029},{"s":"b1","x":-1.08,"y":0.061},{"s":"b1","x":-1,"y":0.088},{"s":"b1","x":-0.63,"y":0.129},{"s":"b1","x":-0.38,"y":0.149},{"s":"b1","x":-0.28,"y":0.206},{"s":"b1","x":-0.24,"y":0.235},{"s":"b1","x":-0.2,"y":0.292},{"s":"b1","x":-0.08,"y":0.324},{"s":"b1","x":-0.06,"y":0.356},{"s":"b1","x":0,"y":0.401},{"s":"b1","x":0.05,"y":0.413},{"s":"b1","x":0.08,"y":0.471},{"s":"b1","x":0.1,"y":0.56},{"s":"b1","x":0.15,"y":0.592},{"s":"b1","x":0.2,"y":0.63},{"s":"b1","x":0.3,"y":0.656},{"s":"b1","x":0.53,"y":0.703},{"s":"b1","x":0.63,"y":0.713},{"s":"b1","x":0.88,"y":0.737},{"s":"b1","x":0.93,"y":0.758},{"s":"b1","x":1.2,"y":0.796},{"s":"b1","x":1.43,"y":0.831},{"s":"b1","x":1.55,"y":0.853},{"s":"b1","x":1.73,"y":0.885},{"s":"b1","x":1.83,"y":0.911},{"s":"b1","x":1.86,"y":0.939},{"s":"b1","x":1.93,"y":0.971},{"s":"b1","x":2.5,"y":1},
{"s":"b2","x":-0.36,"y":0.029},{"s":"b2","x":0.05,"y":0.061},{"s":"b2","x":0.18,"y":0.088},{"s":"b2","x":0.6,"y":0.136},{"s":"b2","x":0.78,"y":0.149},{"s":"b2","x":0.86,"y":0.209},{"s":"b2","x":0.89,"y":0.235},{"s":"b2","x":0.95,"y":0.292},{"s":"b2","x":1.06,"y":0.324},{"s":"b2","x":1.09,"y":0.362},{"s":"b2","x":1.15,"y":0.401},{"s":"b2","x":1.2,"y":0.42},{"s":"b2","x":1.23,"y":0.496},{"s":"b2","x":1.24,"y":0.56},{"s":"b2","x":1.29,"y":0.605},{"s":"b2","x":1.36,"y":0.63},{"s":"b2","x":1.45,"y":0.656},{"s":"b2","x":1.7,"y":0.703},{"s":"b2","x":1.8,"y":0.716},{"s":"b2","x":2.03,"y":0.737},{"s":"b2","x":2.08,"y":0.758},{"s":"b2","x":2.2,"y":0.777},{"s":"b2","x":2.35,"y":0.796},{"s":"b2","x":2.5,"y":0.815},{"s":"b2","x":2.58,"y":0.834},{"s":"b2","x":2.7,"y":0.86},{"s":"b2","x":2.83,"y":0.882},{"s":"b2","x":2.98,"y":0.911},{"s":"b2","x":3,"y":0.939},{"s":"b2","x":3.05,"y":0.971},{"s":"b2","x":3.75,"y":1}
]
}
}
